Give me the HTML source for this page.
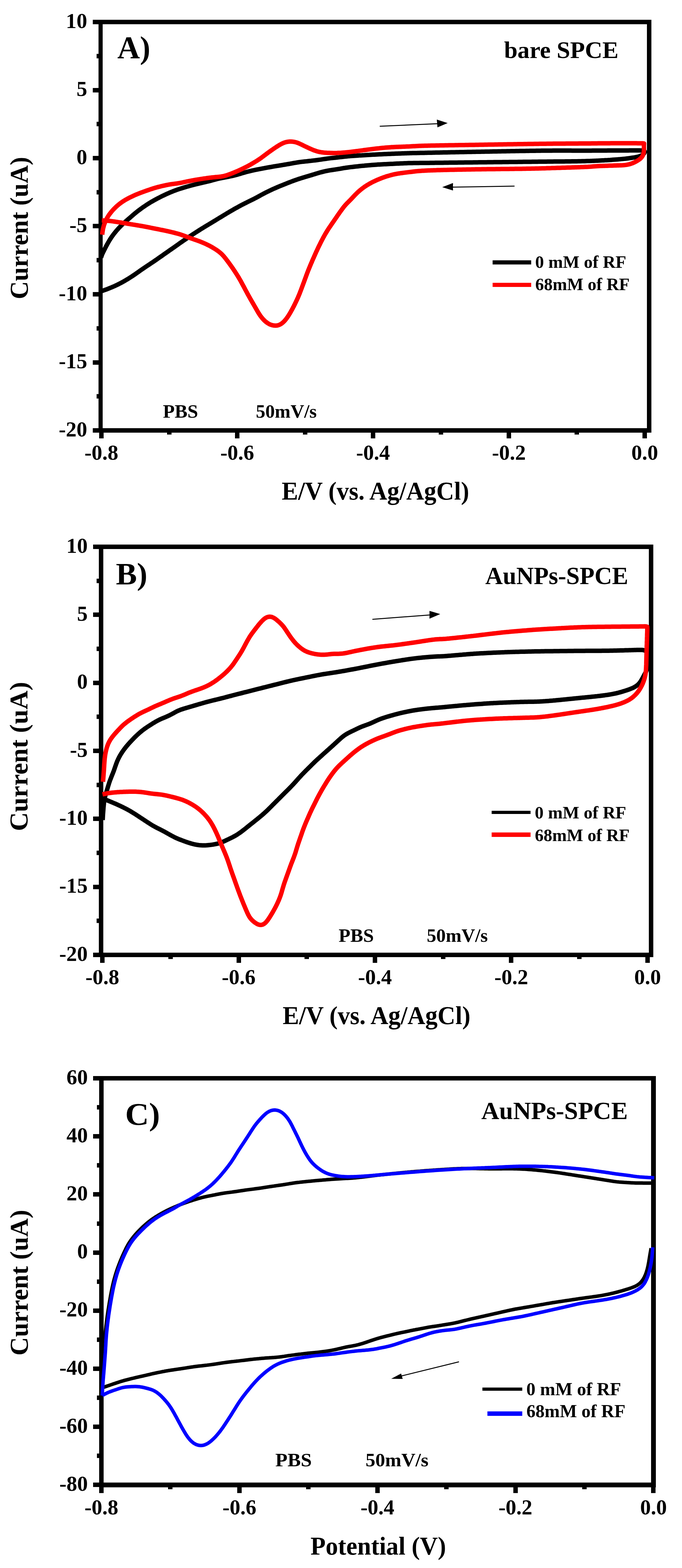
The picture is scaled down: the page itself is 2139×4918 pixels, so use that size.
<!DOCTYPE html>
<html><head><meta charset="utf-8"><title>Cyclic voltammograms</title>
<style>html,body{margin:0;padding:0;background:#fff;}svg{display:block;}text{font-family:'Liberation Serif','Times New Roman',serif;font-weight:bold;fill:#000;}</style>
</head><body>
<svg width="2139" height="4918" viewBox="0 0 2139 4918" shape-rendering="auto">
<rect width="2139" height="4918" fill="#fff"/>
<text x="273.6" y="87.5" font-size="67" text-anchor="end">10</text>
<text x="273.5" y="301.0" font-size="67" text-anchor="end">5</text>
<text x="273.6" y="514.5" font-size="67" text-anchor="end">0</text>
<text x="273.5" y="728.0" font-size="67" text-anchor="end">-5</text>
<text x="273.6" y="941.5" font-size="67" text-anchor="end">-10</text>
<text x="273.5" y="1155.0" font-size="67" text-anchor="end">-15</text>
<text x="273.6" y="1368.5" font-size="67" text-anchor="end">-20</text>
<text x="318.0" y="1442.0" font-size="67" text-anchor="middle">-0.8</text>
<text x="744.0" y="1442.0" font-size="67" text-anchor="middle">-0.6</text>
<text x="1170.0" y="1442.0" font-size="67" text-anchor="middle">-0.4</text>
<text x="1596.0" y="1442.0" font-size="67" text-anchor="middle">-0.2</text>
<text x="2022.0" y="1442.0" font-size="67" text-anchor="middle">0.0</text>
<text x="883.5" y="1567.0" font-size="80" textLength="587.9" lengthAdjust="spacingAndGlyphs">E/V (vs. Ag/AgCl)</text>
<text transform="translate(86.7,938.5) rotate(-90)" x="0" y="0" font-size="80" textLength="446.5" lengthAdjust="spacingAndGlyphs">Current (uA)</text>
<text x="367.9" y="183.0" font-size="99" textLength="103.4" lengthAdjust="spacingAndGlyphs">A)</text>
<text x="1580.9" y="182.4" font-size="75" textLength="358.9" lengthAdjust="spacingAndGlyphs">bare SPCE</text>
<rect x="1545" y="816.5" width="121" height="13" fill="#000"/>
<rect x="1545" y="887.0" width="121" height="13" fill="#f00"/>
<text x="1678.6" y="840.0" font-size="54" textLength="285.5" lengthAdjust="spacingAndGlyphs">0 mM of RF</text>
<text x="1678.8" y="910.0" font-size="54" textLength="295.8" lengthAdjust="spacingAndGlyphs">68mM of RF</text>
<line x1="1191" y1="396" x2="1372" y2="388" stroke="#000" stroke-width="3"/>
<polygon points="1370,375 1404,386 1372,399.5"/>
<line x1="1613.75" y1="583.75" x2="1418" y2="587" stroke="#000" stroke-width="3"/>
<polygon points="1387,587 1420.75,574 1420.75,597.5"/>
<text x="510.9" y="1309.6" font-size="60" textLength="110.4" lengthAdjust="spacingAndGlyphs">PBS</text>
<text x="802.6" y="1310.0" font-size="60" textLength="190.8" lengthAdjust="spacingAndGlyphs">50mV/s</text>
<rect x="309" y="62" width="1734" height="14"/>
<rect x="309" y="1343" width="1734" height="14"/>
<rect x="309" y="62" width="13" height="1295"/>
<rect x="2029" y="62" width="14" height="1295"/>
<rect x="291" y="62" width="18" height="14"/>
<rect x="291" y="276" width="18" height="14"/>
<rect x="291" y="489" width="18" height="14"/>
<rect x="291" y="702" width="18" height="14"/>
<rect x="291" y="916" width="18" height="14"/>
<rect x="291" y="1130" width="18" height="14"/>
<rect x="291" y="1343" width="18" height="14"/>
<rect x="303" y="169" width="6" height="14"/>
<rect x="303" y="382" width="6" height="14"/>
<rect x="303" y="596" width="6" height="14"/>
<rect x="303" y="809" width="6" height="14"/>
<rect x="303" y="1023" width="6" height="14"/>
<rect x="303" y="1236" width="6" height="14"/>
<rect x="311" y="1357" width="14" height="18"/>
<rect x="737" y="1357" width="14" height="18"/>
<rect x="1163" y="1357" width="14" height="18"/>
<rect x="1589" y="1357" width="14" height="18"/>
<rect x="2015" y="1357" width="14" height="18"/>
<rect x="524" y="1357" width="14" height="6"/>
<rect x="950" y="1357" width="14" height="6"/>
<rect x="1376" y="1357" width="14" height="6"/>
<rect x="1802" y="1357" width="14" height="6"/>
<path d="M317.0,808.0L318.2,803.9L319.5,800.1L320.9,796.5L322.6,792.9L324.3,789.4L326.1,785.8L327.9,782.3L329.7,778.7L331.5,775.1L333.3,771.6L335.2,768.1L337.1,764.6L339.1,761.1L341.1,757.6L343.1,754.2L345.2,750.8L347.4,747.4L349.6,744.1L351.9,740.8L354.2,737.6L356.6,734.4L359.1,731.2L361.6,728.1L364.1,725.0L366.7,722.0L369.4,719.0L372.0,716.0L374.8,713.1L377.5,710.2L380.4,707.4L383.2,704.6L386.1,701.8L389.0,699.1L392.0,696.4L395.0,693.7L398.0,691.1L401.0,688.5L404.0,685.9L407.1,683.3L410.1,680.6L413.1,678.0L416.1,675.4L419.1,672.8L422.2,670.2L425.3,667.6L428.4,665.1L431.5,662.6L434.7,660.2L437.9,657.8L441.1,655.4L444.3,653.1L447.6,650.7L450.9,648.4L454.2,646.2L457.5,644.0L460.8,641.8L464.2,639.6L467.6,637.5L471.0,635.4L474.4,633.3L477.9,631.3L481.4,629.3L484.9,627.4L488.4,625.5L491.9,623.6L495.4,621.7L499.0,619.9L502.5,618.1L506.1,616.3L509.7,614.5L513.3,612.8L516.9,611.1L520.6,609.4L524.2,607.7L527.9,606.1L531.5,604.5L535.2,602.9L538.9,601.4L542.6,599.9L546.3,598.5L550.1,597.1L553.8,595.7L557.6,594.4L561.4,593.1L565.2,591.9L569.0,590.7L572.9,589.5L576.7,588.3L580.5,587.2L584.3,586.1L588.2,584.9L592.0,583.9L595.9,582.8L599.8,581.8L603.6,580.8L607.5,579.8L611.4,578.8L615.3,577.8L619.2,576.9L623.1,576.0L626.9,575.0L630.8,574.1L634.7,573.2L638.6,572.3L642.5,571.4L646.4,570.5L650.3,569.5L654.2,568.6L658.1,567.6L662.0,566.6L665.8,565.6L669.7,564.5L673.5,563.5L677.4,562.4L681.2,561.5L685.1,560.5L689.0,559.7L693.0,558.9L696.9,558.1L700.8,557.4L704.7,556.6L708.7,555.8L712.6,555.1L716.5,554.3L720.4,553.5L724.4,552.7L728.3,551.9L732.2,551.0L736.0,550.0L739.9,549.0L743.8,547.9L747.6,546.8L751.4,545.7L755.3,544.5L759.1,543.4L762.9,542.3L766.8,541.2L770.6,540.1L774.5,539.0L778.4,538.0L782.2,537.1L786.1,536.1L790.0,535.2L793.9,534.4L797.9,533.5L801.8,532.7L805.7,531.9L809.6,531.1L813.5,530.4L817.5,529.6L821.4,528.9L825.3,528.1L829.3,527.4L833.2,526.6L837.1,525.9L841.1,525.2L845.0,524.5L848.9,523.8L852.9,523.1L856.8,522.4L860.8,521.7L864.7,521.1L868.7,520.4L872.6,519.8L876.6,519.1L880.5,518.5L884.4,517.8L888.4,517.2L892.3,516.5L896.3,515.8L900.2,515.2L904.2,514.5L908.1,513.8L912.0,513.1L916.0,512.4L919.9,511.6L923.9,510.9L927.8,510.3L931.7,509.6L935.7,509.0L939.7,508.4L943.6,507.9L947.6,507.4L951.6,507.0L955.5,506.5L959.5,506.1L963.5,505.7L967.5,505.2L971.4,504.8L975.4,504.4L979.4,503.9L983.4,503.4L987.3,503.0L991.3,502.5L995.3,502.0L999.2,501.4L1003.2,500.9L1007.2,500.3L1011.1,499.7L1015.1,499.1L1019.0,498.5L1023.0,498.0L1027.0,497.4L1030.9,496.9L1034.9,496.4L1038.9,495.9L1042.8,495.5L1046.8,495.1L1050.8,494.7L1054.8,494.3L1058.8,493.8L1062.7,493.4L1066.7,492.9L1070.7,492.5L1074.7,492.0L1078.6,491.6L1082.6,491.1L1086.6,490.7L1090.6,490.3L1094.5,489.9L1098.5,489.6L1102.5,489.3L1106.5,489.0L1110.5,488.7L1114.5,488.4L1118.5,488.2L1122.5,487.9L1126.5,487.6L1130.5,487.4L1134.5,487.2L1138.4,486.9L1142.4,486.7L1146.4,486.4L1150.4,486.2L1154.4,486.0L1158.4,485.8L1162.4,485.5L1166.4,485.3L1170.4,485.1L1174.4,484.9L1178.4,484.7L1182.4,484.5L1186.4,484.3L1190.4,484.1L1194.4,483.9L1198.4,483.7L1202.4,483.5L1206.4,483.3L1210.4,483.2L1214.4,483.0L1218.4,482.8L1222.4,482.7L1226.4,482.5L1230.4,482.3L1234.3,482.2L1238.3,482.0L1242.3,481.8L1246.3,481.7L1250.3,481.5L1254.3,481.4L1258.3,481.2L1262.3,481.1L1266.3,481.0L1270.3,480.8L1274.3,480.7L1278.3,480.6L1282.3,480.5L1286.3,480.3L1290.3,480.2L1294.3,480.1L1298.3,480.0L1302.3,479.9L1306.3,479.9L1310.3,479.8L1314.3,479.7L1318.3,479.6L1322.3,479.5L1326.3,479.5L1330.3,479.4L1334.3,479.3L1338.3,479.2L1342.3,479.1L1346.3,479.0L1350.3,479.0L1354.3,478.9L1358.3,478.8L1362.3,478.7L1366.3,478.6L1370.3,478.5L1374.3,478.5L1378.3,478.4L1382.3,478.3L1386.3,478.2L1390.3,478.1L1394.3,478.0L1398.3,478.0L1402.3,477.9L1406.3,477.8L1410.3,477.7L1414.3,477.6L1418.3,477.5L1422.3,477.5L1426.3,477.4L1430.3,477.3L1434.3,477.2L1438.3,477.2L1442.3,477.1L1446.3,477.0L1450.3,476.9L1454.3,476.9L1458.3,476.8L1462.3,476.7L1466.3,476.6L1470.3,476.6L1474.3,476.5L1478.3,476.4L1482.3,476.3L1486.3,476.3L1490.3,476.2L1494.3,476.1L1498.3,476.0L1502.3,476.0L1506.3,475.9L1510.3,475.8L1514.3,475.7L1518.3,475.7L1522.3,475.6L1526.3,475.5L1530.3,475.4L1534.3,475.4L1538.3,475.3L1542.3,475.2L1546.3,475.1L1550.3,475.1L1554.3,475.0L1558.3,474.9L1562.3,474.8L1566.3,474.8L1570.3,474.7L1574.3,474.6L1578.3,474.5L1582.3,474.5L1586.3,474.4L1590.3,474.3L1594.3,474.3L1598.3,474.2L1602.3,474.1L1606.3,474.0L1610.3,474.0L1614.3,473.9L1618.3,473.8L1622.3,473.8L1626.3,473.7L1630.3,473.6L1634.3,473.6L1638.3,473.5L1642.3,473.4L1646.3,473.4L1650.3,473.3L1654.3,473.2L1658.3,473.2L1662.3,473.1L1666.3,473.1L1670.3,473.0L1674.3,472.9L1678.3,472.9L1682.3,472.8L1686.3,472.8L1690.3,472.7L1694.3,472.7L1698.3,472.6L1702.3,472.6L1706.3,472.5L1710.3,472.5L1714.3,472.5L1718.3,472.4L1722.3,472.4L1726.3,472.4L1730.3,472.4L1734.3,472.3L1738.3,472.3L1742.3,472.3L1746.3,472.3L1750.3,472.3L1754.3,472.3L1758.3,472.3L1762.3,472.3L1766.3,472.3L1770.3,472.3L1774.3,472.3L1778.3,472.3L1782.4,472.3L1786.4,472.3L1790.4,472.3L1794.4,472.4L1798.4,472.4L1802.4,472.4L1806.4,472.4L1810.4,472.4L1814.4,472.4L1818.4,472.4L1822.4,472.4L1826.4,472.4L1830.4,472.4L1834.4,472.4L1838.4,472.4L1842.4,472.4L1846.4,472.4L1850.4,472.4L1854.4,472.4L1858.4,472.3L1862.4,472.3L1866.4,472.3L1870.4,472.3L1874.4,472.3L1878.4,472.3L1882.4,472.2L1886.4,472.2L1890.4,472.2L1894.4,472.2L1898.4,472.2L1902.4,472.2L1906.4,472.1L1910.4,472.1L1914.4,472.1L1918.4,472.1L1922.4,472.1L1926.4,472.0L1930.4,472.0L1934.4,472.0L1938.4,472.0L1942.4,472.0L1946.4,472.0L1950.4,471.9L1954.4,471.9L1958.4,471.9L1962.4,471.9L1966.4,471.9L1970.4,471.9L1974.4,471.8L1978.4,471.8L1982.4,471.8L1986.4,471.8L1990.4,471.8L1994.4,471.8L1998.4,471.8L2002.4,471.8L2006.3,471.8L2010.1,471.9L2013.7,472.0L2016.8,472.3L2019.4,472.8L2021.2,473.7L2022.1,475.1L2022.2,476.9L2021.4,479.1L2019.9,481.4L2017.7,483.8L2014.9,485.9L2011.8,487.7L2008.3,489.2L2004.6,490.5L2000.8,491.5L1996.9,492.3L1993.0,493.1L1989.1,493.8L1985.1,494.4L1981.2,495.0L1977.2,495.6L1973.3,496.2L1969.3,496.7L1965.3,497.2L1961.4,497.7L1957.4,498.1L1953.4,498.5L1949.4,498.9L1945.4,499.3L1941.5,499.6L1937.5,499.9L1933.5,500.2L1929.5,500.5L1925.5,500.8L1921.5,501.1L1917.5,501.4L1913.5,501.7L1909.5,501.9L1905.5,502.2L1901.6,502.4L1897.6,502.6L1893.6,502.9L1889.6,503.1L1885.6,503.3L1881.6,503.5L1877.6,503.7L1873.6,503.9L1869.6,504.1L1865.6,504.2L1861.6,504.4L1857.6,504.6L1853.6,504.7L1849.6,504.9L1845.6,505.0L1841.6,505.1L1837.6,505.2L1833.6,505.4L1829.6,505.5L1825.6,505.6L1821.6,505.7L1817.6,505.8L1813.6,505.8L1809.6,505.9L1805.6,506.0L1801.6,506.0L1797.6,506.1L1793.6,506.1L1789.6,506.2L1785.6,506.2L1781.6,506.3L1777.6,506.3L1773.6,506.3L1769.6,506.4L1765.6,506.4L1761.6,506.4L1757.6,506.5L1753.6,506.5L1749.6,506.5L1745.6,506.6L1741.6,506.6L1737.6,506.6L1733.6,506.7L1729.6,506.7L1725.6,506.7L1721.6,506.8L1717.6,506.8L1713.6,506.9L1709.6,506.9L1705.6,506.9L1701.6,507.0L1697.6,507.0L1693.6,507.1L1689.6,507.1L1685.6,507.2L1681.6,507.2L1677.6,507.3L1673.6,507.3L1669.6,507.3L1665.6,507.4L1661.6,507.4L1657.6,507.5L1653.6,507.5L1649.6,507.6L1645.6,507.6L1641.6,507.6L1637.6,507.7L1633.6,507.7L1629.6,507.8L1625.6,507.8L1621.6,507.9L1617.6,507.9L1613.6,507.9L1609.6,508.0L1605.6,508.0L1601.6,508.1L1597.6,508.1L1593.6,508.2L1589.6,508.2L1585.6,508.2L1581.6,508.3L1577.6,508.3L1573.6,508.4L1569.6,508.4L1565.6,508.5L1561.6,508.5L1557.6,508.5L1553.6,508.6L1549.6,508.6L1545.6,508.7L1541.6,508.7L1537.6,508.8L1533.6,508.8L1529.6,508.8L1525.6,508.9L1521.6,508.9L1517.6,509.0L1513.6,509.0L1509.6,509.1L1505.6,509.1L1501.6,509.1L1497.6,509.2L1493.6,509.2L1489.6,509.3L1485.6,509.3L1481.6,509.4L1477.6,509.4L1473.6,509.4L1469.6,509.5L1465.6,509.5L1461.6,509.6L1457.6,509.6L1453.6,509.7L1449.6,509.7L1445.6,509.7L1441.6,509.8L1437.6,509.8L1433.6,509.9L1429.6,509.9L1425.6,510.0L1421.6,510.0L1417.6,510.1L1413.6,510.1L1409.6,510.1L1405.6,510.2L1401.6,510.2L1397.6,510.3L1393.6,510.3L1389.5,510.4L1385.5,510.4L1381.5,510.5L1377.5,510.5L1373.5,510.6L1369.5,510.6L1365.5,510.6L1361.5,510.7L1357.5,510.7L1353.5,510.8L1349.5,510.8L1345.5,510.9L1341.5,510.9L1337.5,511.0L1333.5,511.0L1329.5,511.0L1325.5,511.1L1321.5,511.1L1317.5,511.1L1313.5,511.2L1309.5,511.2L1305.5,511.2L1301.5,511.3L1297.5,511.3L1293.5,511.4L1289.5,511.4L1285.5,511.5L1281.5,511.6L1277.5,511.7L1273.5,511.9L1269.5,512.0L1265.5,512.2L1261.5,512.4L1257.6,512.5L1253.6,512.7L1249.6,512.9L1245.6,513.1L1241.6,513.3L1237.6,513.5L1233.6,513.8L1229.6,514.0L1225.6,514.1L1221.6,514.3L1217.6,514.5L1213.6,514.7L1209.6,514.9L1205.6,515.1L1201.6,515.3L1197.6,515.5L1193.6,515.7L1189.6,515.9L1185.6,516.1L1181.6,516.4L1177.6,516.7L1173.7,517.0L1169.7,517.3L1165.7,517.6L1161.7,517.9L1157.7,518.2L1153.7,518.6L1149.7,518.9L1145.7,519.3L1141.8,519.7L1137.8,520.0L1133.8,520.4L1129.8,520.8L1125.8,521.2L1121.9,521.7L1117.9,522.1L1113.9,522.5L1109.9,523.0L1106.0,523.5L1102.0,523.9L1098.0,524.4L1094.1,524.9L1090.1,525.5L1086.1,526.0L1082.2,526.6L1078.2,527.2L1074.3,527.9L1070.3,528.6L1066.4,529.3L1062.4,529.9L1058.5,530.6L1054.5,531.2L1050.6,531.8L1046.6,532.4L1042.7,533.0L1038.7,533.6L1034.8,534.2L1030.8,534.9L1026.9,535.6L1023.0,536.4L1019.1,537.2L1015.2,538.1L1011.3,539.1L1007.4,540.1L1003.6,541.1L999.7,542.2L995.9,543.4L992.1,544.5L988.2,545.7L984.4,546.9L980.6,548.0L976.8,549.2L972.9,550.4L969.1,551.5L965.3,552.6L961.4,553.8L957.6,554.9L953.8,556.1L949.9,557.2L946.1,558.4L942.3,559.6L938.5,560.8L934.7,562.0L930.9,563.3L927.1,564.6L923.3,566.0L919.6,567.4L915.8,568.8L912.1,570.2L908.4,571.6L904.6,573.1L900.9,574.6L897.2,576.1L893.5,577.5L889.8,579.0L886.1,580.5L882.3,582.0L878.6,583.5L874.9,585.0L871.2,586.5L867.6,588.1L863.9,589.7L860.2,591.3L856.6,592.9L852.9,594.6L849.3,596.3L845.7,598.0L842.1,599.8L838.5,601.5L834.9,603.3L831.4,605.1L827.8,607.0L824.3,608.8L820.8,610.7L817.2,612.6L813.7,614.6L810.2,616.5L806.7,618.4L803.2,620.2L799.6,622.1L796.1,623.9L792.5,625.7L788.9,627.5L785.3,629.3L781.7,631.1L778.2,632.8L774.6,634.6L771.0,636.4L767.4,638.1L763.8,640.0L760.3,641.8L756.7,643.6L753.2,645.5L749.7,647.4L746.2,649.3L742.7,651.3L739.2,653.2L735.7,655.2L732.2,657.2L728.8,659.2L725.3,661.2L721.8,663.2L718.4,665.2L714.9,667.3L711.5,669.3L708.1,671.4L704.7,673.5L701.2,675.5L697.8,677.6L694.4,679.7L691.0,681.8L687.6,683.8L684.2,685.9L680.7,688.0L677.3,690.1L673.9,692.2L670.5,694.3L667.1,696.3L663.6,698.4L660.2,700.5L656.8,702.5L653.4,704.6L649.9,706.6L646.5,708.7L643.1,710.8L639.7,712.9L636.3,715.0L632.8,717.1L629.5,719.2L626.1,721.3L622.7,723.5L619.3,725.6L616.0,727.8L612.6,729.9L609.2,732.1L605.9,734.3L602.5,736.5L599.2,738.7L595.9,740.9L592.6,743.2L589.2,745.4L585.9,747.6L582.6,749.9L579.3,752.2L576.0,754.4L572.8,756.7L569.5,759.0L566.2,761.3L562.9,763.6L559.7,765.9L556.4,768.3L553.1,770.6L549.9,772.9L546.6,775.2L543.3,777.5L540.0,779.7L536.8,782.0L533.5,784.3L530.2,786.6L526.9,788.9L523.6,791.2L520.4,793.5L517.1,795.8L513.8,798.1L510.5,800.4L507.3,802.7L504.0,805.0L500.7,807.3L497.4,809.6L494.2,811.9L490.9,814.2L487.6,816.4L484.3,818.7L481.0,821.0L477.7,823.2L474.3,825.4L471.0,827.6L467.7,829.9L464.3,832.1L461.0,834.3L457.7,836.5L454.4,838.7L451.1,841.0L447.8,843.3L444.5,845.5L441.2,847.8L437.9,850.1L434.7,852.5L431.4,854.8L428.1,857.1L424.9,859.4L421.6,861.6L418.2,863.9L414.9,866.1L411.6,868.3L408.2,870.4L404.8,872.6L401.4,874.7L398.0,876.8L394.6,878.8L391.1,880.8L387.6,882.8L384.2,884.8L380.6,886.7L377.1,888.5L373.5,890.4L370.0,892.1L366.4,893.9L362.7,895.6L359.1,897.3L355.5,898.9L351.8,900.5L348.1,902.1L344.4,903.6L340.7,905.1L337.1,906.5L333.4,907.9L329.7,909.2L326.0,910.5L322.1,911.8L320.0,912.5" fill="none" stroke="#000" stroke-width="14" stroke-linejoin="round" stroke-linecap="butt"/>
<path d="M319.3,691.2L323.6,691.4L327.6,691.7L331.5,691.9L335.4,692.2L339.3,692.6L343.3,693.0L347.2,693.4L351.2,693.9L355.1,694.4L359.1,695.0L363.1,695.6L367.0,696.2L371.0,696.8L374.9,697.4L378.9,698.0L382.8,698.7L386.8,699.3L390.7,700.0L394.7,700.6L398.6,701.3L402.5,702.0L406.5,702.6L410.4,703.3L414.4,703.9L418.3,704.6L422.3,705.2L426.2,705.9L430.2,706.5L434.1,707.2L438.1,707.8L442.0,708.5L445.9,709.2L449.9,709.9L453.8,710.6L457.7,711.4L461.7,712.2L465.6,712.9L469.5,713.7L473.4,714.5L477.4,715.3L481.3,716.1L485.2,716.9L489.1,717.7L493.0,718.4L497.0,719.2L500.9,720.0L504.8,720.8L508.7,721.5L512.7,722.3L516.6,723.2L520.5,724.0L524.4,724.9L528.3,725.7L532.2,726.6L536.1,727.5L540.0,728.5L543.9,729.4L547.8,730.4L551.6,731.4L555.5,732.4L559.3,733.5L563.2,734.6L567.0,735.8L570.8,737.1L574.5,738.4L578.3,739.8L582.0,741.2L585.8,742.6L589.5,744.0L593.3,745.4L597.0,746.8L600.8,748.1L604.6,749.5L608.4,750.8L612.1,752.1L615.9,753.4L619.7,754.8L623.4,756.1L627.2,757.6L630.9,759.0L634.6,760.5L638.3,762.1L641.9,763.7L645.6,765.3L649.2,767.1L652.8,768.8L656.3,770.6L659.9,772.5L663.4,774.4L666.8,776.4L670.3,778.5L673.7,780.6L677.0,782.7L680.3,784.9L683.6,787.2L686.8,789.6L689.9,792.1L692.9,794.7L695.8,797.4L698.6,800.3L701.3,803.2L703.8,806.3L706.4,809.4L708.8,812.5L711.2,815.7L713.7,818.9L716.0,822.1L718.4,825.3L720.8,828.6L723.1,831.8L725.4,835.1L727.7,838.3L730.0,841.6L732.2,844.9L734.4,848.3L736.7,851.6L738.8,854.9L741.0,858.3L743.2,861.7L745.3,865.1L747.4,868.5L749.4,871.9L751.4,875.4L753.4,878.8L755.4,882.3L757.3,885.8L759.2,889.3L761.1,892.9L763.0,896.4L764.9,899.9L766.8,903.5L768.6,907.0L770.5,910.5L772.4,914.0L774.3,917.6L776.2,921.1L778.1,924.6L780.1,928.1L782.0,931.6L784.0,935.1L785.9,938.6L787.9,942.0L789.9,945.5L791.9,949.0L793.9,952.4L795.9,955.9L797.9,959.4L799.9,962.8L801.9,966.3L803.9,969.8L805.9,973.2L807.9,976.7L809.9,980.1L812.0,983.5L814.2,986.9L816.4,990.2L818.8,993.4L821.2,996.5L823.8,999.6L826.5,1002.5L829.3,1005.3L832.2,1008.0L835.3,1010.5L838.5,1012.8L841.8,1014.9L845.3,1016.8L848.9,1018.4L852.6,1019.6L856.4,1020.5L860.2,1021.1L864.1,1021.2L867.9,1021.0L871.6,1020.3L875.3,1019.1L878.8,1017.6L882.1,1015.6L885.2,1013.3L888.2,1010.7L891.0,1008.0L893.7,1005.0L896.2,1002.0L898.7,998.8L901.0,995.6L903.3,992.3L905.4,989.0L907.5,985.6L909.6,982.1L911.6,978.7L913.5,975.2L915.5,971.7L917.4,968.2L919.2,964.6L921.1,961.1L922.9,957.5L924.7,953.9L926.4,950.3L928.2,946.7L929.9,943.1L931.6,939.5L933.2,935.9L934.9,932.2L936.4,928.5L938.0,924.8L939.5,921.1L940.9,917.4L942.4,913.7L943.8,909.9L945.2,906.2L946.6,902.4L948.0,898.7L949.4,894.9L950.8,891.2L952.2,887.4L953.6,883.7L954.9,879.9L956.3,876.2L957.7,872.4L959.1,868.7L960.4,864.9L961.8,861.2L963.2,857.4L964.7,853.7L966.1,849.9L967.6,846.2L969.1,842.5L970.6,838.8L972.1,835.1L973.7,831.4L975.2,827.7L976.8,824.1L978.4,820.4L979.9,816.7L981.5,813.0L983.2,809.4L984.8,805.7L986.4,802.1L988.0,798.4L989.7,794.8L991.3,791.1L993.0,787.5L994.7,783.9L996.4,780.2L998.1,776.6L999.8,773.0L1001.6,769.4L1003.4,765.8L1005.1,762.3L1006.9,758.7L1008.8,755.1L1010.6,751.6L1012.5,748.0L1014.3,744.5L1016.3,741.0L1018.2,737.5L1020.2,734.0L1022.2,730.6L1024.3,727.2L1026.4,723.8L1028.5,720.4L1030.7,717.0L1032.9,713.7L1035.2,710.4L1037.4,707.1L1039.7,703.8L1041.9,700.5L1044.2,697.2L1046.5,693.9L1048.8,690.6L1051.0,687.3L1053.3,684.0L1055.6,680.7L1057.8,677.4L1060.1,674.1L1062.4,670.9L1064.7,667.6L1067.0,664.3L1069.3,661.1L1071.7,657.8L1074.0,654.6L1076.5,651.4L1078.9,648.3L1081.5,645.2L1084.1,642.2L1086.8,639.3L1089.6,636.4L1092.4,633.6L1095.2,630.8L1098.1,627.9L1100.8,625.1L1103.6,622.2L1106.3,619.3L1109.0,616.3L1111.8,613.4L1114.5,610.5L1117.4,607.7L1120.2,604.9L1123.1,602.2L1126.1,599.5L1129.1,596.9L1132.2,594.4L1135.3,591.9L1138.5,589.5L1141.8,587.1L1145.0,584.8L1148.4,582.6L1151.7,580.5L1155.2,578.4L1158.6,576.4L1162.1,574.5L1165.6,572.6L1169.2,570.8L1172.8,569.0L1176.4,567.3L1180.0,565.6L1183.7,564.0L1187.4,562.5L1191.1,560.9L1194.8,559.4L1198.5,558.0L1202.3,556.6L1206.0,555.3L1209.8,554.0L1213.6,552.8L1217.5,551.7L1221.3,550.6L1225.2,549.5L1229.0,548.5L1232.9,547.5L1236.8,546.6L1240.7,545.8L1244.6,545.1L1248.6,544.4L1252.5,543.8L1256.5,543.2L1260.4,542.7L1264.4,542.1L1268.4,541.6L1272.3,541.1L1276.3,540.6L1280.3,540.1L1284.3,539.6L1288.2,539.2L1292.2,538.7L1296.2,538.2L1300.1,537.7L1304.1,537.3L1308.1,536.9L1312.1,536.5L1316.1,536.2L1320.0,535.9L1324.0,535.6L1328.0,535.4L1332.0,535.2L1336.0,535.0L1340.0,534.8L1344.0,534.6L1348.0,534.4L1352.0,534.3L1356.0,534.2L1360.0,534.0L1364.0,533.9L1368.0,533.8L1372.0,533.6L1376.0,533.5L1380.0,533.4L1384.0,533.3L1388.0,533.2L1392.0,533.1L1396.0,533.0L1400.0,532.9L1404.0,532.8L1408.0,532.7L1412.0,532.6L1416.0,532.5L1420.0,532.5L1424.0,532.4L1428.0,532.3L1432.0,532.2L1436.0,532.1L1440.0,532.0L1444.0,532.0L1448.0,531.9L1452.0,531.8L1456.0,531.7L1460.0,531.7L1464.0,531.6L1468.0,531.5L1472.0,531.4L1476.0,531.4L1480.0,531.3L1484.0,531.2L1488.0,531.2L1492.0,531.1L1496.0,531.1L1500.0,531.0L1504.0,530.9L1508.0,530.9L1512.0,530.8L1516.0,530.8L1520.0,530.7L1524.0,530.7L1528.0,530.6L1532.0,530.6L1536.0,530.6L1540.0,530.5L1544.0,530.5L1548.0,530.4L1552.0,530.4L1556.0,530.3L1560.0,530.3L1564.0,530.2L1568.0,530.2L1572.0,530.1L1576.0,530.1L1580.0,530.1L1584.0,530.0L1588.0,530.0L1592.0,529.9L1596.0,529.9L1600.0,529.8L1604.0,529.8L1608.0,529.7L1612.0,529.7L1616.0,529.6L1620.0,529.6L1624.0,529.5L1628.0,529.5L1632.0,529.4L1636.0,529.4L1640.0,529.3L1644.0,529.3L1648.0,529.2L1652.0,529.1L1656.0,529.1L1660.0,529.0L1664.0,528.9L1668.0,528.8L1672.0,528.8L1676.0,528.7L1680.0,528.6L1684.0,528.5L1688.0,528.4L1692.0,528.3L1696.0,528.2L1700.0,528.1L1704.0,528.0L1708.0,527.9L1712.0,527.8L1716.0,527.6L1720.0,527.5L1724.0,527.4L1728.0,527.3L1732.0,527.1L1736.0,527.0L1740.0,526.9L1744.0,526.7L1748.0,526.6L1752.0,526.5L1756.0,526.4L1760.0,526.2L1764.0,526.1L1768.0,526.0L1771.9,525.9L1775.9,525.7L1779.9,525.6L1783.9,525.5L1787.9,525.4L1791.9,525.2L1795.9,525.1L1799.9,525.0L1803.9,524.8L1807.9,524.7L1811.9,524.6L1815.9,524.4L1819.9,524.3L1823.9,524.1L1827.9,524.0L1831.9,523.8L1835.9,523.6L1839.9,523.4L1843.9,523.2L1847.9,522.9L1851.9,522.7L1855.9,522.4L1859.9,522.1L1863.9,521.8L1867.8,521.5L1871.8,521.2L1875.8,521.0L1879.8,520.8L1883.8,520.6L1887.8,520.5L1891.8,520.3L1895.8,520.2L1899.8,520.0L1903.8,519.9L1907.8,519.7L1911.8,519.6L1915.8,519.5L1919.8,519.4L1923.8,519.2L1927.8,519.1L1931.8,519.0L1935.8,518.8L1939.8,518.7L1943.8,518.6L1947.8,518.4L1951.8,518.3L1955.8,518.0L1959.7,517.6L1963.7,517.1L1967.6,516.5L1971.5,515.7L1975.3,514.7L1979.1,513.5L1982.9,512.2L1986.6,510.7L1990.2,509.0L1993.7,507.2L1997.2,505.2L2000.6,503.2L2003.9,501.0L2007.0,498.6L2009.9,496.1L2012.5,493.3L2014.7,490.2L2016.5,486.9L2017.8,483.4L2018.7,479.7L2019.3,475.9L2019.6,472.0L2019.7,468.1L2019.6,464.2L2019.6,460.3L2019.6,456.3L2019.9,452.2L2020.0,450.0L2020.0,450.0L2015.8,449.5L2011.8,449.5L2007.9,449.4L2004.0,449.4L2000.1,449.4L1996.1,449.3L1992.1,449.3L1988.1,449.3L1984.1,449.3L1980.1,449.3L1976.1,449.3L1972.1,449.3L1968.1,449.3L1964.1,449.3L1960.1,449.3L1956.1,449.3L1952.1,449.3L1948.1,449.3L1944.1,449.3L1940.1,449.3L1936.1,449.3L1932.1,449.3L1928.1,449.3L1924.1,449.3L1920.1,449.3L1916.1,449.3L1912.1,449.4L1908.1,449.4L1904.1,449.4L1900.1,449.4L1896.1,449.4L1892.1,449.5L1888.1,449.5L1884.1,449.5L1880.1,449.6L1876.1,449.6L1872.1,449.7L1868.1,449.7L1864.1,449.7L1860.1,449.8L1856.1,449.8L1852.1,449.9L1848.1,449.9L1844.1,449.9L1840.1,450.0L1836.1,450.0L1832.1,450.0L1828.1,450.1L1824.1,450.1L1820.1,450.1L1816.1,450.1L1812.1,450.2L1808.1,450.2L1804.1,450.2L1800.1,450.2L1796.1,450.2L1792.1,450.2L1788.1,450.3L1784.1,450.3L1780.1,450.3L1776.1,450.3L1772.1,450.4L1768.1,450.4L1764.1,450.4L1760.1,450.4L1756.1,450.5L1752.1,450.5L1748.1,450.5L1744.1,450.5L1740.1,450.6L1736.1,450.6L1732.1,450.7L1728.1,450.7L1724.1,450.7L1720.1,450.8L1716.1,450.8L1712.1,450.9L1708.1,450.9L1704.1,451.0L1700.1,451.0L1696.1,451.1L1692.1,451.1L1688.1,451.2L1684.1,451.2L1680.1,451.3L1676.1,451.3L1672.1,451.4L1668.1,451.4L1664.1,451.5L1660.1,451.6L1656.1,451.6L1652.1,451.7L1648.1,451.7L1644.1,451.8L1640.1,451.9L1636.1,451.9L1632.1,452.0L1628.1,452.1L1624.1,452.1L1620.1,452.2L1616.1,452.2L1612.1,452.3L1608.1,452.4L1604.1,452.4L1600.1,452.5L1596.1,452.6L1592.1,452.6L1588.1,452.7L1584.1,452.8L1580.1,452.8L1576.1,452.9L1572.1,453.0L1568.1,453.0L1564.1,453.1L1560.1,453.2L1556.1,453.2L1552.1,453.3L1548.1,453.4L1544.1,453.4L1540.1,453.5L1536.0,453.6L1532.0,453.6L1528.0,453.7L1524.0,453.8L1520.0,453.8L1516.0,453.9L1512.0,454.0L1508.0,454.0L1504.0,454.1L1500.0,454.2L1496.0,454.2L1492.0,454.3L1488.0,454.4L1484.0,454.4L1480.0,454.5L1476.0,454.6L1472.0,454.6L1468.0,454.7L1464.0,454.8L1460.0,454.8L1456.0,454.9L1452.0,455.0L1448.0,455.0L1444.0,455.1L1440.0,455.1L1436.0,455.2L1432.0,455.3L1428.0,455.3L1424.0,455.4L1420.0,455.5L1416.0,455.5L1412.0,455.6L1408.0,455.6L1404.0,455.7L1400.0,455.8L1396.0,455.8L1392.0,455.9L1388.0,456.0L1384.0,456.0L1380.0,456.1L1376.0,456.2L1372.0,456.2L1368.0,456.3L1364.0,456.4L1360.0,456.4L1356.0,456.5L1352.0,456.6L1348.0,456.7L1344.0,456.8L1340.0,456.9L1336.0,457.0L1332.0,457.1L1328.0,457.2L1324.0,457.3L1320.0,457.5L1316.0,457.6L1312.0,457.8L1308.0,458.0L1304.1,458.2L1300.1,458.4L1296.1,458.6L1292.1,458.8L1288.1,459.1L1284.1,459.3L1280.1,459.4L1276.1,459.6L1272.1,459.8L1268.1,459.9L1264.1,460.1L1260.1,460.2L1256.1,460.4L1252.1,460.5L1248.1,460.7L1244.1,460.8L1240.1,461.0L1236.1,461.2L1232.1,461.4L1228.1,461.6L1224.1,461.9L1220.1,462.2L1216.1,462.5L1212.2,462.8L1208.2,463.1L1204.2,463.5L1200.2,463.8L1196.2,464.2L1192.2,464.6L1188.3,465.1L1184.3,465.5L1180.3,465.9L1176.3,466.4L1172.4,466.9L1168.4,467.4L1164.4,467.9L1160.5,468.4L1156.5,468.9L1152.5,469.4L1148.6,470.0L1144.6,470.5L1140.6,471.0L1136.7,471.6L1132.7,472.1L1128.7,472.7L1124.8,473.2L1120.8,473.8L1116.8,474.3L1112.9,474.8L1108.9,475.3L1104.9,475.8L1101.0,476.3L1097.0,476.7L1093.0,477.1L1089.0,477.5L1085.1,477.9L1081.1,478.3L1077.1,478.6L1073.1,478.9L1069.1,479.2L1065.1,479.4L1061.1,479.6L1057.1,479.8L1053.1,479.9L1049.1,479.9L1045.1,479.9L1041.1,479.8L1037.1,479.8L1033.1,479.6L1029.1,479.5L1025.1,479.3L1021.2,479.0L1017.2,478.7L1013.2,478.3L1009.2,477.8L1005.3,477.2L1001.4,476.5L997.5,475.5L993.7,474.5L989.9,473.2L986.2,471.9L982.5,470.4L978.8,468.9L975.1,467.3L971.4,465.7L967.8,464.1L964.1,462.4L960.5,460.7L956.9,459.0L953.3,457.2L949.7,455.4L946.1,453.7L942.5,452.0L938.9,450.3L935.2,448.8L931.5,447.4L927.8,446.2L923.9,445.3L920.1,444.6L916.1,444.2L912.2,444.0L908.2,444.1L904.3,444.4L900.4,445.0L896.6,445.9L892.8,447.0L889.1,448.4L885.5,450.0L881.9,451.8L878.5,453.7L875.0,455.7L871.6,457.8L868.2,460.0L864.9,462.1L861.6,464.3L858.2,466.6L855.0,468.9L851.7,471.1L848.4,473.5L845.2,475.8L841.9,478.2L838.7,480.5L835.5,482.9L832.3,485.3L829.1,487.7L825.9,490.1L822.7,492.5L819.5,494.9L816.2,497.2L813.0,499.5L809.6,501.7L806.3,503.9L802.9,506.0L799.4,508.0L796.0,510.1L792.6,512.2L789.1,514.2L785.7,516.2L782.2,518.2L778.7,520.1L775.2,522.0L771.6,523.8L768.0,525.6L764.5,527.4L760.8,529.1L757.2,530.8L753.6,532.5L750.0,534.1L746.3,535.8L742.6,537.4L739.0,539.0L735.3,540.5L731.6,542.0L727.9,543.5L724.1,545.0L720.4,546.4L716.6,547.7L712.9,549.0L709.1,550.3L705.3,551.3L701.4,552.3L697.5,553.0L693.6,553.7L689.6,554.2L685.6,554.6L681.6,555.0L677.7,555.3L673.7,555.7L669.7,556.1L665.7,556.5L661.7,557.0L657.8,557.4L653.8,558.0L649.8,558.5L645.9,559.1L641.9,559.6L638.0,560.2L634.0,560.8L630.1,561.4L626.1,562.1L622.2,562.7L618.2,563.3L614.3,564.0L610.3,564.7L606.4,565.3L602.4,566.1L598.5,566.8L594.6,567.6L590.7,568.4L586.7,569.2L582.8,570.0L578.9,570.9L575.0,571.7L571.1,572.6L567.2,573.3L563.3,574.1L559.3,574.7L555.4,575.3L551.4,575.9L547.5,576.4L543.5,576.9L539.5,577.4L535.6,578.0L531.6,578.7L527.7,579.4L523.8,580.1L519.9,580.9L515.9,581.8L512.0,582.6L508.1,583.5L504.2,584.4L500.4,585.4L496.5,586.4L492.6,587.4L488.8,588.5L484.9,589.6L481.1,590.8L477.3,592.0L473.5,593.2L469.7,594.5L465.9,595.8L462.1,597.1L458.4,598.4L454.6,599.8L450.8,601.1L447.1,602.5L443.3,603.9L439.6,605.3L435.9,606.8L432.1,608.3L428.4,609.8L424.8,611.3L421.1,612.9L417.5,614.6L413.8,616.3L410.2,618.0L406.6,619.8L403.1,621.6L399.6,623.5L396.1,625.4L392.6,627.4L389.2,629.5L385.8,631.7L382.5,633.9L379.2,636.2L376.0,638.6L372.9,641.0L369.8,643.6L366.8,646.2L363.9,648.9L361.0,651.7L358.2,654.5L355.4,657.4L352.7,660.4L350.1,663.4L347.6,666.5L345.2,669.6L342.8,672.8L340.5,676.1L338.4,679.5L336.3,682.9L334.4,686.4L332.6,689.9L330.9,693.5L329.4,697.2L328.0,700.9L326.7,704.7L325.5,708.5L324.5,712.4L323.5,716.2L322.7,720.1L322.1,723.9L321.5,727.8L321.0,731.7L320.4,736.0" fill="none" stroke="#f00" stroke-width="14" stroke-linejoin="round" stroke-linecap="butt"/>
<rect x="310" y="1708" width="1739" height="14"/>
<rect x="310" y="2988" width="1739" height="14"/>
<rect x="310" y="1708" width="14" height="1294"/>
<rect x="2035" y="1708" width="14" height="1294"/>
<rect x="292" y="1708" width="18" height="14"/>
<rect x="292" y="1921" width="18" height="14"/>
<rect x="292" y="2135" width="18" height="14"/>
<rect x="292" y="2348" width="18" height="14"/>
<rect x="292" y="2561" width="18" height="14"/>
<rect x="292" y="2775" width="18" height="14"/>
<rect x="292" y="2988" width="18" height="14"/>
<rect x="303" y="1815" width="7" height="14"/>
<rect x="303" y="2028" width="7" height="14"/>
<rect x="303" y="2241" width="7" height="14"/>
<rect x="303" y="2455" width="7" height="14"/>
<rect x="303" y="2668" width="7" height="14"/>
<rect x="303" y="2881" width="7" height="14"/>
<rect x="314" y="3002" width="14" height="18"/>
<rect x="742" y="3002" width="14" height="18"/>
<rect x="1169" y="3002" width="14" height="18"/>
<rect x="1596" y="3002" width="14" height="18"/>
<rect x="2024" y="3002" width="14" height="18"/>
<rect x="528" y="3002" width="14" height="6"/>
<rect x="955" y="3002" width="14" height="6"/>
<rect x="1383" y="3002" width="14" height="6"/>
<rect x="1810" y="3002" width="14" height="6"/>
<path d="M322.0,2572.0L322.3,2567.7L322.5,2563.7L322.7,2559.8L322.9,2555.9L323.2,2552.0L323.5,2548.0L323.8,2544.0L324.1,2540.1L324.4,2536.1L324.7,2532.1L325.1,2528.1L325.5,2524.1L325.9,2520.1L326.4,2516.2L327.0,2512.2L327.6,2508.3L328.3,2504.4L329.2,2500.4L330.1,2496.6L331.1,2492.7L332.2,2488.9L333.4,2485.0L334.5,2481.2L335.7,2477.4L336.9,2473.6L338.0,2469.7L339.2,2465.9L340.3,2462.1L341.5,2458.3L342.7,2454.5L344.0,2450.7L345.4,2446.9L346.8,2443.2L348.3,2439.4L349.7,2435.7L351.2,2432.0L352.7,2428.3L354.2,2424.6L355.7,2420.9L357.1,2417.1L358.4,2413.4L359.7,2409.6L361.0,2405.8L362.3,2402.0L363.6,2398.2L365.0,2394.5L366.4,2390.7L367.9,2387.0L369.5,2383.4L371.2,2379.8L373.0,2376.2L374.9,2372.7L376.8,2369.2L378.8,2365.8L381.0,2362.4L383.1,2359.0L385.4,2355.7L387.7,2352.5L390.1,2349.2L392.5,2346.1L395.0,2342.9L397.5,2339.8L400.1,2336.8L402.7,2333.7L405.4,2330.8L408.1,2327.8L410.8,2324.9L413.5,2322.0L416.3,2319.1L419.0,2316.2L421.9,2313.3L424.7,2310.5L427.6,2307.7L430.5,2305.0L433.4,2302.3L436.4,2299.6L439.4,2297.0L442.5,2294.5L445.6,2291.9L448.8,2289.5L452.0,2287.1L455.2,2284.7L458.5,2282.4L461.8,2280.2L465.1,2278.0L468.5,2275.8L471.9,2273.7L475.2,2271.6L478.6,2269.4L482.0,2267.3L485.5,2265.3L488.9,2263.2L492.4,2261.3L495.9,2259.4L499.5,2257.6L503.1,2255.9L506.7,2254.3L510.4,2252.8L514.1,2251.2L517.8,2249.7L521.5,2248.1L525.1,2246.5L528.8,2244.8L532.4,2243.1L535.9,2241.3L539.5,2239.4L543.0,2237.5L546.4,2235.6L549.9,2233.6L553.4,2231.8L557.0,2230.0L560.6,2228.4L564.3,2226.9L568.1,2225.5L571.8,2224.3L575.7,2223.0L579.5,2221.9L583.3,2220.7L587.1,2219.6L591.0,2218.5L594.8,2217.3L598.7,2216.2L602.5,2215.1L606.3,2214.0L610.2,2212.8L614.0,2211.7L617.9,2210.6L621.7,2209.4L625.5,2208.3L629.4,2207.2L633.2,2206.1L637.1,2205.0L640.9,2203.9L644.8,2202.8L648.6,2201.8L652.5,2200.7L656.4,2199.7L660.2,2198.7L664.1,2197.8L668.0,2196.8L671.9,2195.9L675.8,2194.9L679.7,2194.0L683.6,2193.0L687.4,2192.1L691.3,2191.1L695.2,2190.1L699.1,2189.2L703.0,2188.2L706.8,2187.2L710.7,2186.1L714.6,2185.1L718.4,2184.1L722.3,2183.1L726.2,2182.1L730.0,2181.0L733.9,2180.0L737.8,2179.0L741.7,2178.0L745.5,2177.0L749.4,2176.0L753.3,2175.1L757.2,2174.1L761.1,2173.1L764.9,2172.1L768.8,2171.1L772.7,2170.2L776.6,2169.2L780.4,2168.2L784.3,2167.2L788.2,2166.2L792.1,2165.3L796.0,2164.3L799.8,2163.3L803.7,2162.3L807.6,2161.3L811.5,2160.3L815.4,2159.4L819.2,2158.4L823.1,2157.4L827.0,2156.4L830.9,2155.5L834.8,2154.5L838.6,2153.5L842.5,2152.5L846.4,2151.5L850.3,2150.6L854.2,2149.6L858.0,2148.6L861.9,2147.6L865.8,2146.7L869.7,2145.7L873.6,2144.7L877.4,2143.8L881.3,2142.8L885.2,2141.8L889.1,2140.8L893.0,2139.8L896.8,2138.9L900.7,2137.9L904.6,2137.0L908.5,2136.0L912.4,2135.1L916.3,2134.2L920.2,2133.3L924.1,2132.5L928.0,2131.6L931.9,2130.8L935.8,2130.0L939.8,2129.2L943.7,2128.4L947.6,2127.6L951.5,2126.8L955.4,2126.0L959.4,2125.2L963.3,2124.4L967.2,2123.6L971.1,2122.8L975.0,2122.0L979.0,2121.2L982.9,2120.4L986.8,2119.6L990.7,2118.8L994.7,2118.0L998.6,2117.3L1002.5,2116.6L1006.5,2115.9L1010.4,2115.2L1014.4,2114.5L1018.3,2113.9L1022.3,2113.3L1026.2,2112.7L1030.2,2112.1L1034.1,2111.5L1038.1,2110.9L1042.0,2110.3L1046.0,2109.7L1049.9,2109.1L1053.9,2108.5L1057.8,2107.8L1061.8,2107.2L1065.7,2106.5L1069.7,2105.8L1073.6,2105.1L1077.6,2104.5L1081.5,2103.8L1085.5,2103.1L1089.4,2102.4L1093.3,2101.7L1097.3,2100.9L1101.2,2100.2L1105.1,2099.5L1109.1,2098.8L1113.0,2098.0L1116.9,2097.3L1120.9,2096.5L1124.8,2095.8L1128.7,2095.0L1132.6,2094.2L1136.6,2093.5L1140.5,2092.7L1144.4,2091.9L1148.3,2091.1L1152.3,2090.3L1156.2,2089.5L1160.1,2088.7L1164.0,2087.9L1167.9,2087.1L1171.9,2086.4L1175.8,2085.6L1179.7,2084.8L1183.7,2084.1L1187.6,2083.4L1191.5,2082.6L1195.5,2081.9L1199.4,2081.2L1203.3,2080.5L1207.3,2079.8L1211.2,2079.1L1215.2,2078.4L1219.1,2077.7L1223.0,2077.0L1227.0,2076.4L1230.9,2075.7L1234.9,2075.0L1238.8,2074.4L1242.8,2073.7L1246.7,2073.1L1250.7,2072.4L1254.6,2071.8L1258.6,2071.2L1262.5,2070.5L1266.5,2069.9L1270.4,2069.3L1274.4,2068.7L1278.3,2068.1L1282.3,2067.5L1286.3,2066.9L1290.2,2066.4L1294.2,2065.9L1298.1,2065.4L1302.1,2064.9L1306.1,2064.4L1310.1,2063.9L1314.0,2063.5L1318.0,2063.1L1322.0,2062.7L1326.0,2062.3L1330.0,2061.9L1334.0,2061.6L1337.9,2061.2L1341.9,2060.9L1345.9,2060.6L1349.9,2060.3L1353.9,2060.0L1357.9,2059.7L1361.9,2059.4L1365.9,2059.2L1369.9,2059.0L1373.9,2058.8L1377.9,2058.7L1381.9,2058.6L1385.9,2058.4L1389.8,2058.2L1393.8,2058.0L1397.8,2057.7L1401.8,2057.4L1405.8,2057.1L1409.8,2056.8L1413.8,2056.5L1417.8,2056.1L1421.8,2055.8L1425.7,2055.4L1429.7,2055.1L1433.7,2054.7L1437.7,2054.4L1441.7,2054.0L1445.7,2053.7L1449.7,2053.4L1453.6,2053.0L1457.6,2052.7L1461.6,2052.4L1465.6,2052.0L1469.6,2051.7L1473.6,2051.4L1477.6,2051.1L1481.6,2050.9L1485.6,2050.6L1489.6,2050.3L1493.5,2050.1L1497.5,2049.8L1501.5,2049.6L1505.5,2049.3L1509.5,2049.1L1513.5,2048.9L1517.5,2048.7L1521.5,2048.5L1525.5,2048.3L1529.5,2048.0L1533.5,2047.8L1537.5,2047.7L1541.5,2047.5L1545.5,2047.3L1549.5,2047.1L1553.5,2046.9L1557.5,2046.7L1561.5,2046.6L1565.5,2046.4L1569.5,2046.2L1573.5,2046.1L1577.5,2045.9L1581.5,2045.8L1585.5,2045.6L1589.5,2045.5L1593.5,2045.3L1597.5,2045.2L1601.5,2045.1L1605.5,2044.9L1609.5,2044.8L1613.5,2044.7L1617.5,2044.6L1621.4,2044.5L1625.4,2044.4L1629.4,2044.2L1633.4,2044.1L1637.4,2044.0L1641.4,2043.9L1645.4,2043.9L1649.4,2043.8L1653.4,2043.7L1657.4,2043.6L1661.4,2043.5L1665.4,2043.4L1669.4,2043.3L1673.4,2043.2L1677.4,2043.1L1681.4,2043.1L1685.4,2043.0L1689.4,2042.9L1693.4,2042.9L1697.5,2042.8L1701.5,2042.7L1705.5,2042.7L1709.5,2042.6L1713.5,2042.6L1717.5,2042.5L1721.5,2042.5L1725.5,2042.4L1729.5,2042.4L1733.5,2042.4L1737.5,2042.3L1741.5,2042.3L1745.5,2042.2L1749.5,2042.2L1753.5,2042.2L1757.5,2042.1L1761.5,2042.1L1765.5,2042.0L1769.5,2042.0L1773.5,2041.9L1777.5,2041.9L1781.5,2041.8L1785.5,2041.8L1789.5,2041.7L1793.5,2041.7L1797.5,2041.7L1801.5,2041.6L1805.5,2041.6L1809.5,2041.5L1813.5,2041.5L1817.5,2041.5L1821.5,2041.4L1825.5,2041.4L1829.5,2041.4L1833.5,2041.4L1837.5,2041.3L1841.5,2041.3L1845.5,2041.3L1849.5,2041.3L1853.5,2041.3L1857.5,2041.3L1861.5,2041.3L1865.5,2041.2L1869.5,2041.2L1873.5,2041.2L1877.5,2041.2L1881.5,2041.2L1885.5,2041.2L1889.5,2041.1L1893.5,2041.1L1897.5,2041.1L1901.5,2041.0L1905.5,2041.0L1909.5,2040.9L1913.5,2040.8L1917.5,2040.8L1921.5,2040.7L1925.5,2040.6L1929.5,2040.5L1933.5,2040.4L1937.5,2040.3L1941.5,2040.2L1945.5,2040.1L1949.5,2040.0L1953.5,2039.9L1957.5,2039.8L1961.5,2039.6L1965.5,2039.5L1969.5,2039.4L1973.5,2039.3L1977.5,2039.2L1981.5,2039.1L1985.5,2038.9L1989.5,2038.8L1993.5,2038.7L1997.5,2038.6L2001.5,2038.5L2005.5,2038.4L2009.4,2038.4L2013.3,2038.5L2017.0,2038.9L2020.5,2039.8L2023.6,2041.1L2026.2,2043.0L2028.3,2045.6L2029.8,2048.7L2030.8,2052.1L2031.4,2055.9L2031.7,2059.7L2031.9,2063.7L2032.0,2067.7L2032.0,2071.7L2032.0,2075.7L2031.9,2079.7L2031.7,2083.6L2031.4,2087.6L2030.9,2091.5L2030.2,2095.3L2029.2,2099.1L2027.9,2102.7L2026.3,2106.3L2024.5,2109.7L2022.6,2113.2L2020.7,2116.7L2018.8,2120.2L2017.0,2123.7L2015.1,2127.2L2013.2,2130.7L2011.1,2134.2L2009.0,2137.5L2006.7,2140.7L2004.2,2143.7L2001.5,2146.6L1998.6,2149.2L1995.4,2151.6L1992.2,2153.7L1988.7,2155.7L1985.2,2157.5L1981.5,2159.1L1977.8,2160.6L1974.1,2162.0L1970.4,2163.4L1966.6,2164.7L1962.8,2165.9L1959.0,2167.1L1955.1,2168.3L1951.3,2169.5L1947.5,2170.6L1943.6,2171.6L1939.7,2172.7L1935.9,2173.6L1932.0,2174.6L1928.1,2175.4L1924.2,2176.2L1920.2,2177.0L1916.3,2177.7L1912.3,2178.3L1908.4,2179.0L1904.4,2179.6L1900.5,2180.1L1896.5,2180.7L1892.5,2181.2L1888.6,2181.7L1884.6,2182.2L1880.6,2182.7L1876.7,2183.1L1872.7,2183.6L1868.7,2184.0L1864.7,2184.5L1860.8,2184.9L1856.8,2185.3L1852.8,2185.7L1848.8,2186.1L1844.8,2186.5L1840.8,2186.9L1836.9,2187.3L1832.9,2187.7L1828.9,2188.0L1824.9,2188.4L1820.9,2188.8L1817.0,2189.2L1813.0,2189.6L1809.0,2190.0L1805.0,2190.4L1801.0,2190.8L1797.0,2191.2L1793.1,2191.6L1789.1,2192.0L1785.1,2192.4L1781.1,2192.8L1777.1,2193.2L1773.2,2193.6L1769.2,2194.0L1765.2,2194.4L1761.2,2194.8L1757.2,2195.2L1753.3,2195.6L1749.3,2195.9L1745.3,2196.3L1741.3,2196.7L1737.3,2197.0L1733.3,2197.4L1729.3,2197.7L1725.4,2198.0L1721.4,2198.4L1717.4,2198.7L1713.4,2199.0L1709.4,2199.3L1705.4,2199.5L1701.4,2199.8L1697.4,2200.0L1693.4,2200.2L1689.4,2200.4L1685.4,2200.6L1681.4,2200.7L1677.4,2200.8L1673.4,2200.9L1669.4,2201.0L1665.4,2201.0L1661.4,2201.1L1657.4,2201.1L1653.4,2201.2L1649.4,2201.2L1645.4,2201.3L1641.4,2201.4L1637.4,2201.5L1633.4,2201.6L1629.4,2201.8L1625.4,2201.9L1621.4,2202.0L1617.4,2202.2L1613.4,2202.3L1609.4,2202.5L1605.4,2202.6L1601.4,2202.7L1597.4,2202.9L1593.5,2203.1L1589.5,2203.2L1585.5,2203.4L1581.5,2203.6L1577.5,2203.7L1573.5,2203.9L1569.5,2204.1L1565.5,2204.3L1561.5,2204.5L1557.5,2204.7L1553.5,2204.9L1549.5,2205.1L1545.5,2205.4L1541.5,2205.6L1537.5,2205.8L1533.5,2206.1L1529.5,2206.3L1525.5,2206.6L1521.5,2206.8L1517.5,2207.1L1513.6,2207.4L1509.6,2207.7L1505.6,2207.9L1501.6,2208.2L1497.6,2208.5L1493.6,2208.8L1489.6,2209.1L1485.6,2209.4L1481.6,2209.7L1477.6,2210.1L1473.7,2210.4L1469.7,2210.7L1465.7,2211.0L1461.7,2211.4L1457.7,2211.7L1453.7,2212.0L1449.7,2212.4L1445.7,2212.8L1441.8,2213.1L1437.8,2213.5L1433.8,2213.9L1429.8,2214.2L1425.8,2214.6L1421.8,2215.0L1417.9,2215.4L1413.9,2215.8L1409.9,2216.1L1405.9,2216.5L1401.9,2216.9L1398.0,2217.3L1394.0,2217.7L1390.0,2218.1L1386.0,2218.4L1382.0,2218.8L1378.0,2219.1L1374.0,2219.5L1370.1,2219.8L1366.1,2220.1L1362.1,2220.4L1358.1,2220.8L1354.1,2221.1L1350.1,2221.5L1346.1,2221.9L1342.2,2222.3L1338.2,2222.7L1334.2,2223.1L1330.2,2223.6L1326.3,2224.1L1322.3,2224.6L1318.3,2225.1L1314.4,2225.6L1310.4,2226.2L1306.4,2226.8L1302.5,2227.4L1298.5,2228.0L1294.6,2228.7L1290.7,2229.4L1286.7,2230.1L1282.8,2230.9L1278.9,2231.7L1275.0,2232.5L1271.0,2233.3L1267.1,2234.1L1263.2,2235.0L1259.3,2235.9L1255.4,2236.8L1251.5,2237.8L1247.7,2238.8L1243.8,2239.8L1239.9,2240.8L1236.1,2241.8L1232.2,2242.9L1228.4,2244.0L1224.5,2245.1L1220.7,2246.2L1216.8,2247.3L1213.0,2248.4L1209.2,2249.6L1205.4,2250.8L1201.6,2252.1L1197.8,2253.4L1194.0,2254.8L1190.3,2256.2L1186.6,2257.7L1182.9,2259.3L1179.3,2260.9L1175.7,2262.6L1172.0,2264.3L1168.4,2266.0L1164.8,2267.6L1161.1,2269.2L1157.4,2270.7L1153.6,2272.1L1149.9,2273.5L1146.1,2274.8L1142.4,2276.2L1138.6,2277.6L1134.9,2279.0L1131.2,2280.5L1127.5,2282.1L1123.9,2283.8L1120.3,2285.5L1116.7,2287.3L1113.1,2289.0L1109.5,2290.8L1105.9,2292.5L1102.3,2294.2L1098.7,2296.0L1095.1,2297.8L1091.6,2299.6L1088.1,2301.5L1084.7,2303.6L1081.4,2305.8L1078.1,2308.1L1075.0,2310.5L1071.9,2313.0L1068.8,2315.6L1065.9,2318.3L1062.9,2321.0L1059.9,2323.7L1057.0,2326.4L1054.1,2329.1L1051.1,2331.8L1048.2,2334.5L1045.2,2337.2L1042.3,2339.9L1039.3,2342.6L1036.3,2345.3L1033.3,2347.9L1030.4,2350.6L1027.4,2353.3L1024.4,2355.9L1021.4,2358.6L1018.4,2361.2L1015.4,2363.9L1012.4,2366.6L1009.5,2369.3L1006.5,2372.0L1003.5,2374.6L1000.6,2377.3L997.6,2380.0L994.7,2382.7L991.7,2385.4L988.8,2388.1L985.9,2390.9L983.1,2393.7L980.2,2396.5L977.4,2399.3L974.5,2402.2L971.7,2405.0L968.9,2407.8L966.0,2410.6L963.2,2413.4L960.3,2416.2L957.5,2419.1L954.7,2421.9L951.9,2424.8L949.1,2427.6L946.3,2430.5L943.6,2433.5L940.9,2436.4L938.2,2439.4L935.5,2442.3L932.9,2445.3L930.2,2448.3L927.6,2451.3L924.9,2454.3L922.2,2457.2L919.5,2460.2L916.8,2463.1L914.0,2466.0L911.2,2468.9L908.4,2471.7L905.6,2474.6L902.8,2477.4L899.9,2480.2L897.1,2483.0L894.2,2485.8L891.4,2488.7L888.6,2491.5L885.7,2494.3L882.9,2497.2L880.1,2500.0L877.3,2502.8L874.4,2505.6L871.6,2508.5L868.8,2511.3L865.9,2514.1L863.1,2516.9L860.3,2519.8L857.4,2522.6L854.6,2525.4L851.8,2528.3L849.0,2531.1L846.2,2533.9L843.3,2536.8L840.5,2539.6L837.6,2542.3L834.7,2545.1L831.7,2547.8L828.8,2550.5L825.8,2553.1L822.8,2555.8L819.7,2558.4L816.7,2560.9L813.6,2563.5L810.5,2566.0L807.4,2568.6L804.3,2571.1L801.1,2573.6L798.0,2576.1L794.9,2578.6L791.8,2581.1L788.6,2583.6L785.5,2586.0L782.4,2588.5L779.3,2591.1L776.1,2593.6L773.0,2596.1L769.9,2598.6L766.8,2601.1L763.6,2603.5L760.5,2606.0L757.3,2608.4L754.1,2610.8L750.8,2613.1L747.5,2615.3L744.2,2617.5L740.8,2619.6L737.3,2621.6L733.8,2623.5L730.3,2625.4L726.7,2627.2L723.1,2629.0L719.5,2630.7L715.9,2632.5L712.3,2634.2L708.7,2635.9L705.1,2637.6L701.4,2639.2L697.8,2640.8L694.1,2642.3L690.3,2643.7L686.5,2644.9L682.7,2645.9L678.8,2646.9L674.9,2647.7L671.0,2648.4L667.0,2649.1L663.1,2649.6L659.1,2650.1L655.1,2650.6L651.2,2650.9L647.2,2651.2L643.2,2651.4L639.2,2651.4L635.2,2651.4L631.2,2651.2L627.2,2651.0L623.3,2650.6L619.3,2650.0L615.4,2649.4L611.5,2648.6L607.6,2647.7L603.7,2646.7L599.9,2645.7L596.0,2644.5L592.2,2643.3L588.4,2642.1L584.6,2640.8L580.9,2639.5L577.1,2638.1L573.3,2636.7L569.6,2635.3L565.9,2633.9L562.1,2632.4L558.4,2630.9L554.8,2629.3L551.1,2627.7L547.5,2625.9L544.0,2624.1L540.4,2622.3L536.9,2620.4L533.4,2618.5L529.9,2616.5L526.4,2614.6L522.9,2612.6L519.4,2610.7L515.9,2608.7L512.4,2606.8L508.9,2605.0L505.3,2603.1L501.8,2601.3L498.2,2599.5L494.6,2597.7L491.1,2595.9L487.5,2594.0L484.0,2592.1L480.5,2590.2L477.1,2588.2L473.7,2586.1L470.3,2583.9L466.9,2581.8L463.6,2579.6L460.2,2577.4L456.9,2575.2L453.5,2573.0L450.2,2570.8L446.9,2568.6L443.5,2566.4L440.2,2564.2L436.8,2562.0L433.5,2559.8L430.1,2557.6L426.8,2555.4L423.4,2553.2L420.0,2551.1L416.7,2549.0L413.2,2546.9L409.8,2544.8L406.4,2542.8L402.9,2540.9L399.4,2538.9L395.8,2537.1L392.3,2535.2L388.7,2533.4L385.1,2531.6L381.5,2529.9L377.9,2528.1L374.3,2526.5L370.7,2524.8L367.0,2523.1L363.4,2521.5L359.7,2519.9L356.0,2518.4L352.3,2516.8L348.6,2515.3L344.9,2513.8L341.3,2512.2L337.7,2510.7L334.1,2509.1L330.5,2507.5L326.9,2505.9L323.0,2504.0" fill="none" stroke="#000" stroke-width="14" stroke-linejoin="round" stroke-linecap="butt"/>
<path d="M321.5,2491.5L325.7,2490.6L329.6,2489.8L333.5,2489.0L337.3,2488.2L341.2,2487.6L345.1,2487.0L349.0,2486.5L353.0,2486.0L357.0,2485.6L361.0,2485.2L365.0,2484.9L368.9,2484.6L372.9,2484.4L376.9,2484.1L380.9,2483.9L384.9,2483.8L388.9,2483.6L392.9,2483.4L396.9,2483.3L400.9,2483.2L404.9,2483.1L408.9,2483.0L412.9,2483.0L416.9,2483.0L420.9,2483.0L424.9,2483.1L428.9,2483.3L432.9,2483.4L436.9,2483.7L440.9,2484.0L444.9,2484.5L448.8,2484.9L452.8,2485.5L456.7,2486.1L460.7,2486.7L464.6,2487.3L468.6,2488.0L472.5,2488.6L476.5,2489.1L480.5,2489.6L484.4,2490.1L488.4,2490.4L492.4,2490.8L496.4,2491.2L500.4,2491.6L504.3,2492.1L508.3,2492.6L512.2,2493.3L516.1,2494.1L520.1,2494.9L524.0,2495.7L527.9,2496.6L531.8,2497.5L535.6,2498.5L539.5,2499.4L543.4,2500.4L547.3,2501.4L551.2,2502.4L555.0,2503.4L558.9,2504.5L562.7,2505.6L566.5,2506.8L570.3,2508.0L574.1,2509.4L577.8,2510.9L581.5,2512.4L585.1,2514.1L588.7,2515.8L592.3,2517.6L595.8,2519.5L599.3,2521.4L602.8,2523.4L606.2,2525.5L609.6,2527.6L612.9,2529.8L616.2,2532.1L619.4,2534.4L622.6,2536.8L625.7,2539.4L628.7,2541.9L631.7,2544.6L634.6,2547.3L637.5,2550.1L640.3,2553.0L643.0,2555.9L645.7,2558.9L648.3,2561.9L650.9,2565.0L653.3,2568.1L655.7,2571.3L658.0,2574.6L660.2,2577.9L662.4,2581.3L664.4,2584.7L666.5,2588.1L668.4,2591.6L670.3,2595.2L672.1,2598.7L673.9,2602.3L675.6,2605.9L677.3,2609.5L679.0,2613.2L680.6,2616.8L682.3,2620.5L683.8,2624.2L685.4,2627.8L686.9,2631.5L688.4,2635.2L689.9,2639.0L691.5,2642.7L693.0,2646.3L694.6,2650.0L696.1,2653.7L697.7,2657.4L699.3,2661.0L700.9,2664.7L702.5,2668.4L704.1,2672.1L705.6,2675.8L707.1,2679.5L708.6,2683.2L710.1,2686.9L711.5,2690.6L712.9,2694.4L714.3,2698.2L715.6,2701.9L716.9,2705.7L718.2,2709.5L719.4,2713.3L720.7,2717.1L721.9,2720.9L723.2,2724.7L724.5,2728.5L725.8,2732.3L727.1,2736.0L728.4,2739.8L729.8,2743.6L731.1,2747.4L732.5,2751.1L733.8,2754.9L735.2,2758.7L736.5,2762.4L737.8,2766.2L739.2,2770.0L740.5,2773.7L741.9,2777.5L743.2,2781.3L744.6,2785.1L745.9,2788.8L747.3,2792.6L748.7,2796.3L750.1,2800.1L751.5,2803.8L752.9,2807.6L754.3,2811.3L755.8,2815.0L757.3,2818.8L758.7,2822.5L760.2,2826.2L761.7,2829.9L763.2,2833.6L764.7,2837.3L766.3,2841.0L767.8,2844.7L769.4,2848.4L770.9,2852.1L772.5,2855.8L774.1,2859.4L775.7,2863.1L777.4,2866.7L779.2,2870.2L781.1,2873.7L783.2,2877.1L785.5,2880.3L788.0,2883.3L790.7,2886.2L793.6,2888.9L796.6,2891.4L799.8,2893.8L803.1,2896.0L806.4,2898.0L809.9,2899.5L813.4,2900.6L816.9,2901.0L820.5,2900.8L823.9,2899.9L827.2,2898.3L830.2,2896.2L833.1,2893.7L835.7,2890.8L838.2,2887.8L840.5,2884.6L842.8,2881.3L845.0,2878.0L847.1,2874.6L849.2,2871.2L851.3,2867.8L853.4,2864.3L855.4,2860.9L857.4,2857.4L859.3,2853.9L861.3,2850.4L863.2,2846.9L865.0,2843.3L866.8,2839.8L868.6,2836.2L870.3,2832.6L871.9,2828.9L873.5,2825.3L875.1,2821.6L876.6,2817.9L878.0,2814.1L879.4,2810.4L880.7,2806.6L881.9,2802.8L883.1,2799.0L884.2,2795.1L885.3,2791.3L886.4,2787.4L887.5,2783.6L888.7,2779.8L889.8,2775.9L891.1,2772.1L892.3,2768.3L893.6,2764.6L895.0,2760.8L896.3,2757.0L897.7,2753.3L899.0,2749.5L900.4,2745.7L901.7,2742.0L903.1,2738.2L904.4,2734.4L905.8,2730.7L907.1,2726.9L908.5,2723.1L909.8,2719.4L911.2,2715.6L912.6,2711.8L914.0,2708.1L915.5,2704.4L916.9,2700.7L918.4,2696.9L919.9,2693.2L921.3,2689.5L922.7,2685.7L924.0,2682.0L925.3,2678.2L926.6,2674.4L927.8,2670.6L928.9,2666.7L930.1,2662.9L931.2,2659.1L932.4,2655.2L933.6,2651.4L934.8,2647.6L936.1,2643.8L937.4,2640.0L938.7,2636.3L940.0,2632.5L941.3,2628.7L942.6,2624.9L944.0,2621.1L945.3,2617.4L946.6,2613.6L947.9,2609.8L949.2,2606.0L950.6,2602.3L952.0,2598.5L953.4,2594.8L954.9,2591.1L956.4,2587.3L957.9,2583.6L959.4,2580.0L961.0,2576.3L962.6,2572.6L964.2,2568.9L965.8,2565.3L967.4,2561.6L969.0,2557.9L970.6,2554.3L972.2,2550.6L973.9,2547.0L975.6,2543.4L977.3,2539.7L979.1,2536.1L980.8,2532.5L982.6,2529.0L984.4,2525.4L986.2,2521.8L988.0,2518.2L989.8,2514.6L991.5,2511.1L993.3,2507.5L995.1,2503.9L997.0,2500.4L998.8,2496.8L1000.7,2493.3L1002.6,2489.8L1004.6,2486.3L1006.5,2482.8L1008.5,2479.3L1010.5,2475.8L1012.5,2472.4L1014.6,2468.9L1016.6,2465.5L1018.7,2462.1L1020.8,2458.7L1022.9,2455.3L1025.0,2451.9L1027.1,2448.5L1029.3,2445.1L1031.5,2441.8L1033.7,2438.5L1036.0,2435.2L1038.3,2431.9L1040.7,2428.7L1043.0,2425.4L1045.5,2422.3L1047.9,2419.1L1050.4,2416.0L1053.0,2412.9L1055.6,2409.9L1058.3,2407.0L1061.1,2404.1L1063.9,2401.3L1066.8,2398.5L1069.7,2395.7L1072.6,2393.0L1075.6,2390.3L1078.5,2387.6L1081.5,2384.9L1084.5,2382.2L1087.4,2379.6L1090.4,2376.9L1093.4,2374.2L1096.3,2371.5L1099.3,2368.9L1102.4,2366.3L1105.4,2363.7L1108.5,2361.1L1111.6,2358.6L1114.7,2356.1L1117.9,2353.7L1121.1,2351.3L1124.3,2348.9L1127.6,2346.6L1130.9,2344.3L1134.2,2342.1L1137.6,2340.0L1141.0,2337.9L1144.5,2335.9L1147.9,2333.9L1151.4,2332.0L1155.0,2330.1L1158.5,2328.2L1162.1,2326.5L1165.7,2324.7L1169.3,2323.0L1173.0,2321.3L1176.6,2319.7L1180.3,2318.1L1184.0,2316.6L1187.7,2315.1L1191.4,2313.7L1195.2,2312.3L1198.9,2310.9L1202.7,2309.6L1206.5,2308.2L1210.2,2306.8L1214.0,2305.5L1217.7,2304.0L1221.5,2302.6L1225.2,2301.2L1228.9,2299.7L1232.6,2298.3L1236.4,2296.9L1240.2,2295.5L1243.9,2294.2L1247.7,2292.9L1251.5,2291.7L1255.4,2290.6L1259.2,2289.5L1263.1,2288.4L1266.9,2287.4L1270.8,2286.4L1274.7,2285.5L1278.6,2284.5L1282.5,2283.7L1286.4,2282.8L1290.3,2282.0L1294.3,2281.2L1298.2,2280.5L1302.1,2279.8L1306.1,2279.1L1310.0,2278.4L1314.0,2277.8L1317.9,2277.2L1321.9,2276.6L1325.8,2276.0L1329.8,2275.4L1333.8,2274.8L1337.7,2274.3L1341.7,2273.7L1345.6,2273.2L1349.6,2272.8L1353.6,2272.3L1357.6,2272.0L1361.6,2271.6L1365.5,2271.3L1369.5,2270.9L1373.5,2270.6L1377.5,2270.2L1381.5,2269.8L1385.5,2269.3L1389.4,2268.9L1393.4,2268.4L1397.4,2267.9L1401.4,2267.4L1405.3,2266.9L1409.3,2266.5L1413.3,2266.0L1417.2,2265.5L1421.2,2265.0L1425.2,2264.5L1429.2,2264.0L1433.1,2263.5L1437.1,2263.1L1441.1,2262.6L1445.1,2262.2L1449.0,2261.7L1453.0,2261.3L1457.0,2260.9L1461.0,2260.5L1465.0,2260.1L1468.9,2259.8L1472.9,2259.4L1476.9,2259.1L1480.9,2258.7L1484.9,2258.4L1488.9,2258.1L1492.9,2257.8L1496.9,2257.5L1500.9,2257.2L1504.8,2257.0L1508.8,2256.7L1512.8,2256.5L1516.8,2256.2L1520.8,2256.0L1524.8,2255.7L1528.8,2255.5L1532.8,2255.3L1536.8,2255.1L1540.8,2254.9L1544.8,2254.7L1548.8,2254.5L1552.8,2254.3L1556.8,2254.1L1560.8,2253.9L1564.8,2253.7L1568.8,2253.6L1572.8,2253.4L1576.8,2253.3L1580.8,2253.1L1584.8,2253.0L1588.8,2252.9L1592.8,2252.7L1596.8,2252.6L1600.8,2252.5L1604.8,2252.4L1608.8,2252.3L1612.8,2252.1L1616.8,2252.0L1620.8,2251.9L1624.8,2251.8L1628.8,2251.7L1632.8,2251.5L1636.8,2251.4L1640.8,2251.3L1644.8,2251.2L1648.8,2251.1L1652.8,2251.0L1656.8,2250.9L1660.8,2250.8L1664.8,2250.6L1668.8,2250.5L1672.8,2250.4L1676.8,2250.2L1680.8,2250.0L1684.8,2249.8L1688.8,2249.5L1692.7,2249.2L1696.7,2248.8L1700.7,2248.4L1704.7,2248.0L1708.7,2247.6L1712.7,2247.1L1716.6,2246.7L1720.6,2246.2L1724.6,2245.6L1728.5,2245.1L1732.5,2244.6L1736.5,2244.1L1740.4,2243.5L1744.4,2243.0L1748.4,2242.4L1752.3,2241.9L1756.3,2241.3L1760.2,2240.7L1764.2,2240.1L1768.2,2239.5L1772.1,2238.9L1776.1,2238.3L1780.0,2237.7L1784.0,2237.1L1787.9,2236.5L1791.9,2235.9L1795.9,2235.3L1799.8,2234.7L1803.8,2234.1L1807.7,2233.5L1811.7,2233.0L1815.6,2232.4L1819.6,2231.8L1823.6,2231.2L1827.5,2230.7L1831.5,2230.1L1835.4,2229.5L1839.4,2228.9L1843.4,2228.4L1847.3,2227.8L1851.3,2227.2L1855.2,2226.6L1859.2,2226.0L1863.1,2225.4L1867.1,2224.7L1871.0,2224.1L1875.0,2223.4L1878.9,2222.7L1882.9,2222.0L1886.8,2221.2L1890.7,2220.5L1894.7,2219.7L1898.6,2218.9L1902.5,2218.1L1906.4,2217.3L1910.3,2216.4L1914.2,2215.5L1918.1,2214.6L1922.0,2213.7L1925.9,2212.7L1929.8,2211.7L1933.6,2210.6L1937.5,2209.5L1941.3,2208.4L1945.1,2207.1L1948.9,2205.8L1952.6,2204.4L1956.3,2203.0L1960.0,2201.4L1963.6,2199.7L1967.2,2198.0L1970.7,2196.1L1974.2,2194.1L1977.5,2191.9L1980.8,2189.7L1983.9,2187.2L1987.0,2184.7L1989.9,2182.0L1992.8,2179.2L1995.5,2176.3L1998.1,2173.3L2000.6,2170.2L2003.0,2167.0L2005.2,2163.7L2007.3,2160.3L2009.3,2156.9L2011.3,2153.4L2013.1,2149.8L2014.8,2146.2L2016.4,2142.6L2017.8,2138.9L2019.2,2135.1L2020.5,2131.3L2021.6,2127.5L2022.6,2123.6L2023.5,2119.8L2024.2,2115.8L2024.8,2111.9L2025.3,2107.9L2025.8,2104.0L2026.1,2100.0L2026.3,2096.0L2026.5,2092.0L2026.7,2088.0L2026.9,2084.0L2027.0,2080.0L2027.1,2076.0L2027.2,2072.0L2027.3,2068.0L2027.4,2064.0L2027.5,2060.0L2027.6,2056.0L2027.7,2052.0L2027.8,2048.0L2027.9,2044.0L2028.0,2040.0L2028.1,2036.0L2028.3,2032.0L2028.4,2028.0L2028.5,2024.0L2028.7,2020.0L2028.8,2016.0L2028.9,2012.0L2029.1,2008.0L2029.2,2004.0L2029.3,2000.0L2029.5,1996.0L2029.6,1992.0L2029.7,1988.0L2029.9,1984.1L2030.0,1980.2L2030.1,1976.3L2030.1,1972.3L2030.1,1968.2L2030.0,1966.0L2030.0,1966.0L2026.1,1964.7L2022.1,1964.6L2018.2,1964.7L2014.3,1964.7L2010.4,1964.8L2006.4,1964.8L2002.5,1964.9L1998.5,1965.0L1994.5,1965.0L1990.5,1965.0L1986.5,1965.1L1982.5,1965.1L1978.5,1965.1L1974.5,1965.2L1970.5,1965.2L1966.5,1965.2L1962.5,1965.3L1958.5,1965.3L1954.5,1965.3L1950.5,1965.3L1946.5,1965.4L1942.5,1965.4L1938.5,1965.4L1934.5,1965.5L1930.5,1965.5L1926.5,1965.5L1922.5,1965.6L1918.5,1965.6L1914.5,1965.7L1910.5,1965.7L1906.5,1965.8L1902.5,1965.8L1898.5,1965.8L1894.5,1965.9L1890.5,1965.9L1886.5,1966.0L1882.5,1966.0L1878.5,1966.1L1874.5,1966.1L1870.5,1966.2L1866.5,1966.2L1862.5,1966.3L1858.5,1966.3L1854.5,1966.4L1850.5,1966.5L1846.5,1966.6L1842.5,1966.7L1838.5,1966.8L1834.5,1966.9L1830.5,1967.0L1826.5,1967.1L1822.5,1967.2L1818.5,1967.4L1814.5,1967.5L1810.5,1967.7L1806.5,1967.9L1802.5,1968.1L1798.5,1968.3L1794.5,1968.4L1790.5,1968.6L1786.5,1968.8L1782.5,1969.1L1778.5,1969.3L1774.5,1969.5L1770.5,1969.7L1766.5,1969.9L1762.6,1970.1L1758.6,1970.4L1754.6,1970.6L1750.6,1970.8L1746.6,1971.0L1742.6,1971.3L1738.6,1971.5L1734.6,1971.7L1730.6,1971.9L1726.6,1972.1L1722.6,1972.3L1718.6,1972.5L1714.6,1972.8L1710.6,1973.0L1706.6,1973.2L1702.6,1973.4L1698.7,1973.7L1694.7,1974.0L1690.7,1974.2L1686.7,1974.5L1682.7,1974.8L1678.7,1975.1L1674.7,1975.3L1670.7,1975.6L1666.7,1975.9L1662.7,1976.2L1658.8,1976.5L1654.8,1976.8L1650.8,1977.2L1646.8,1977.5L1642.8,1977.8L1638.8,1978.1L1634.8,1978.4L1630.8,1978.7L1626.9,1979.1L1622.9,1979.4L1618.9,1979.7L1614.9,1980.1L1610.9,1980.4L1606.9,1980.8L1602.9,1981.1L1599.0,1981.5L1595.0,1981.9L1591.0,1982.2L1587.0,1982.6L1583.0,1983.0L1579.0,1983.4L1575.1,1983.8L1571.1,1984.3L1567.1,1984.7L1563.1,1985.1L1559.2,1985.6L1555.2,1986.1L1551.2,1986.5L1547.2,1987.0L1543.3,1987.5L1539.3,1987.9L1535.3,1988.4L1531.4,1988.9L1527.4,1989.4L1523.4,1989.9L1519.5,1990.4L1515.5,1990.8L1511.5,1991.3L1507.5,1991.8L1503.6,1992.3L1499.6,1992.8L1495.6,1993.2L1491.7,1993.7L1487.7,1994.1L1483.7,1994.6L1479.7,1995.0L1475.8,1995.5L1471.8,1995.9L1467.8,1996.4L1463.8,1996.8L1459.8,1997.3L1455.9,1997.7L1451.9,1998.1L1447.9,1998.6L1443.9,1999.0L1440.0,1999.4L1436.0,1999.8L1432.0,2000.3L1428.0,2000.7L1424.1,2001.1L1420.1,2001.5L1416.1,2001.9L1412.1,2002.3L1408.1,2002.7L1404.2,2003.0L1400.2,2003.4L1396.2,2003.7L1392.2,2003.9L1388.2,2004.2L1384.2,2004.4L1380.2,2004.5L1376.2,2004.8L1372.2,2005.0L1368.2,2005.3L1364.3,2005.6L1360.3,2006.1L1356.3,2006.5L1352.4,2007.1L1348.4,2007.6L1344.4,2008.2L1340.5,2008.8L1336.5,2009.4L1332.6,2010.0L1328.6,2010.6L1324.7,2011.2L1320.7,2011.9L1316.8,2012.5L1312.8,2013.1L1308.9,2013.7L1304.9,2014.3L1300.9,2014.9L1297.0,2015.5L1293.0,2016.0L1289.1,2016.6L1285.1,2017.2L1281.2,2017.8L1277.2,2018.3L1273.2,2018.9L1269.3,2019.4L1265.3,2020.0L1261.4,2020.5L1257.4,2021.1L1253.4,2021.6L1249.5,2022.1L1245.5,2022.6L1241.5,2023.1L1237.5,2023.6L1233.6,2024.1L1229.6,2024.5L1225.6,2024.9L1221.6,2025.3L1217.7,2025.7L1213.7,2026.1L1209.7,2026.5L1205.7,2027.0L1201.7,2027.4L1197.8,2027.8L1193.8,2028.3L1189.8,2028.8L1185.9,2029.3L1181.9,2029.8L1177.9,2030.4L1174.0,2031.0L1170.0,2031.6L1166.1,2032.2L1162.1,2032.9L1158.2,2033.5L1154.2,2034.2L1150.3,2034.9L1146.4,2035.6L1142.4,2036.3L1138.5,2037.1L1134.6,2037.8L1130.6,2038.5L1126.7,2039.3L1122.8,2040.1L1118.9,2040.8L1114.9,2041.6L1111.0,2042.5L1107.1,2043.3L1103.2,2044.2L1099.3,2045.1L1095.4,2045.9L1091.5,2046.8L1087.6,2047.6L1083.7,2048.3L1079.7,2049.0L1075.8,2049.6L1071.8,2050.0L1067.8,2050.3L1063.9,2050.6L1059.9,2050.7L1055.9,2050.7L1051.9,2050.8L1047.9,2050.8L1043.9,2051.0L1040.0,2051.3L1036.0,2051.7L1032.0,2052.1L1028.1,2052.6L1024.1,2053.0L1020.1,2053.3L1016.2,2053.5L1012.2,2053.6L1008.2,2053.5L1004.2,2053.3L1000.2,2052.9L996.3,2052.5L992.3,2051.9L988.4,2051.3L984.5,2050.5L980.6,2049.7L976.7,2048.7L972.9,2047.6L969.0,2046.5L965.3,2045.2L961.6,2043.7L958.0,2042.0L954.5,2040.2L951.1,2038.1L947.8,2035.9L944.6,2033.6L941.5,2031.1L938.4,2028.5L935.4,2025.9L932.5,2023.2L929.7,2020.4L926.9,2017.5L924.2,2014.5L921.6,2011.5L919.1,2008.4L916.7,2005.3L914.3,2002.1L911.9,1998.8L909.6,1995.6L907.4,1992.3L905.1,1988.9L902.9,1985.6L900.7,1982.3L898.5,1978.9L896.3,1975.6L894.1,1972.3L891.8,1969.0L889.4,1965.8L886.9,1962.8L884.3,1959.8L881.5,1956.9L878.7,1954.1L875.8,1951.3L872.8,1948.7L869.8,1946.1L866.8,1943.5L863.6,1941.1L860.4,1938.9L857.0,1937.1L853.5,1935.6L849.9,1934.6L846.3,1934.2L842.7,1934.5L839.1,1935.3L835.6,1936.7L832.3,1938.6L829.2,1940.8L826.2,1943.4L823.3,1946.1L820.5,1948.9L817.9,1951.9L815.2,1954.9L812.6,1957.9L810.1,1961.0L807.6,1964.2L805.1,1967.3L802.7,1970.5L800.3,1973.6L797.8,1976.8L795.4,1980.0L793.0,1983.2L790.6,1986.4L788.3,1989.6L786.0,1992.9L783.8,1996.2L781.7,1999.6L779.7,2003.1L777.7,2006.5L775.7,2010.0L773.8,2013.5L771.9,2017.1L770.0,2020.6L768.1,2024.1L766.3,2027.6L764.4,2031.2L762.5,2034.7L760.5,2038.2L758.6,2041.7L756.5,2045.1L754.5,2048.5L752.4,2051.9L750.2,2055.3L748.0,2058.6L745.8,2062.0L743.6,2065.3L741.4,2068.6L739.2,2072.0L736.9,2075.3L734.7,2078.6L732.4,2081.9L730.1,2085.1L727.6,2088.3L725.1,2091.4L722.6,2094.4L719.9,2097.4L717.2,2100.3L714.4,2103.2L711.6,2106.0L708.7,2108.8L705.8,2111.5L702.8,2114.2L699.8,2116.8L696.7,2119.4L693.6,2121.9L690.5,2124.5L687.4,2126.9L684.2,2129.4L681.0,2131.8L677.8,2134.2L674.6,2136.5L671.3,2138.7L667.9,2140.9L664.5,2143.0L661.1,2145.1L657.6,2147.1L654.1,2148.9L650.6,2150.7L647.0,2152.5L643.3,2154.1L639.6,2155.7L635.9,2157.2L632.2,2158.6L628.5,2160.0L624.7,2161.3L620.9,2162.7L617.1,2164.0L613.3,2165.2L609.6,2166.5L605.8,2167.9L602.0,2169.2L598.3,2170.6L594.5,2172.0L590.8,2173.5L587.2,2175.1L583.5,2176.7L579.8,2178.2L576.1,2179.8L572.4,2181.3L568.7,2182.7L564.9,2184.1L561.2,2185.4L557.4,2186.6L553.6,2187.9L549.8,2189.1L546.0,2190.4L542.2,2191.8L538.5,2193.2L534.8,2194.6L531.1,2196.1L527.4,2197.7L523.7,2199.2L520.1,2200.9L516.4,2202.5L512.7,2204.1L509.0,2205.6L505.4,2207.2L501.7,2208.7L497.9,2210.2L494.3,2211.7L490.6,2213.3L486.9,2214.9L483.3,2216.6L479.7,2218.3L476.1,2220.0L472.5,2221.8L468.9,2223.6L465.3,2225.3L461.7,2227.0L458.1,2228.7L454.4,2230.4L450.8,2232.0L447.2,2233.7L443.6,2235.5L440.1,2237.3L436.6,2239.2L433.1,2241.2L429.7,2243.3L426.2,2245.4L422.9,2247.5L419.5,2249.7L416.2,2251.9L412.8,2254.1L409.5,2256.4L406.3,2258.6L403.0,2261.0L399.8,2263.3L396.6,2265.7L393.5,2268.2L390.4,2270.7L387.4,2273.3L384.4,2276.0L381.6,2278.8L378.7,2281.7L376.0,2284.5L373.3,2287.5L370.5,2290.4L367.8,2293.3L365.1,2296.3L362.4,2299.3L359.8,2302.2L357.2,2305.3L354.6,2308.4L352.2,2311.5L349.8,2314.7L347.5,2318.0L345.4,2321.3L343.4,2324.8L341.5,2328.3L339.8,2331.9L338.3,2335.5L336.9,2339.3L335.6,2343.0L334.4,2346.9L333.4,2350.7L332.5,2354.6L331.6,2358.5L330.8,2362.4L330.1,2366.3L329.5,2370.3L329.0,2374.3L328.5,2378.2L328.1,2382.2L327.8,2386.2L327.5,2390.2L327.2,2394.2L326.9,2398.1L326.7,2402.1L326.5,2406.1L326.2,2410.1L326.0,2414.1L325.7,2418.1L325.4,2422.1L325.1,2426.1L324.8,2430.0L324.5,2434.0L324.2,2437.9L323.9,2441.8L323.5,2445.7L323.2,2449.8L323.0,2452.0" fill="none" stroke="#f00" stroke-width="14" stroke-linejoin="round" stroke-linecap="butt"/>
<text x="275.1" y="1733.5" font-size="67" text-anchor="end">10</text>
<text x="275.0" y="1946.8" font-size="67" text-anchor="end">5</text>
<text x="275.1" y="2160.2" font-size="67" text-anchor="end">0</text>
<text x="275.0" y="2373.5" font-size="67" text-anchor="end">-5</text>
<text x="275.1" y="2586.8" font-size="67" text-anchor="end">-10</text>
<text x="275.0" y="2800.2" font-size="67" text-anchor="end">-15</text>
<text x="275.1" y="3013.5" font-size="67" text-anchor="end">-20</text>
<text x="321.0" y="3087.0" font-size="67" text-anchor="middle">-0.8</text>
<text x="748.5" y="3087.0" font-size="67" text-anchor="middle">-0.6</text>
<text x="1176.0" y="3087.0" font-size="67" text-anchor="middle">-0.4</text>
<text x="1603.5" y="3087.0" font-size="67" text-anchor="middle">-0.2</text>
<text x="2031.0" y="3087.0" font-size="67" text-anchor="middle">0.0</text>
<text x="886.4" y="3211.7" font-size="80" textLength="589.0" lengthAdjust="spacingAndGlyphs">E/V (vs. Ag/AgCl)</text>
<text transform="translate(86.3,2606.8) rotate(-90)" x="0" y="0" font-size="80" textLength="468.4" lengthAdjust="spacingAndGlyphs">Current (uA)</text>
<text x="363.4" y="1832.5" font-size="98" textLength="98.9" lengthAdjust="spacingAndGlyphs">B)</text>
<text x="1522.0" y="1832.0" font-size="78" textLength="448.4" lengthAdjust="spacingAndGlyphs">AuNPs-SPCE</text>
<rect x="1542" y="2543.0" width="122" height="10" fill="#000"/>
<rect x="1542" y="2611.0" width="122" height="14" fill="#f00"/>
<text x="1677.3" y="2566.6" font-size="54" textLength="286.8" lengthAdjust="spacingAndGlyphs">0 mM of RF</text>
<text x="1677.5" y="2637.7" font-size="54" textLength="297.1" lengthAdjust="spacingAndGlyphs">68mM of RF</text>
<line x1="1168" y1="1942.5" x2="1349" y2="1928.75" stroke="#000" stroke-width="3"/>
<polygon points="1347,1916 1380.75,1926 1347,1940.5"/>
<text x="1062.0" y="2953.8" font-size="60" textLength="110.6" lengthAdjust="spacingAndGlyphs">PBS</text>
<text x="1338.6" y="2954.0" font-size="60" textLength="191.2" lengthAdjust="spacingAndGlyphs">50mV/s</text>
<rect x="311" y="3375" width="1746" height="14"/>
<rect x="311" y="4650" width="1746" height="15"/>
<rect x="311" y="3375" width="14" height="1290"/>
<rect x="2042" y="3375" width="15" height="1290"/>
<rect x="292" y="3375" width="19" height="14"/>
<rect x="292" y="3557" width="19" height="14"/>
<rect x="292" y="3739" width="19" height="14"/>
<rect x="292" y="3922" width="19" height="14"/>
<rect x="292" y="4104" width="19" height="14"/>
<rect x="292" y="4286" width="19" height="14"/>
<rect x="292" y="4468" width="19" height="14"/>
<rect x="292" y="4650" width="19" height="14"/>
<rect x="304" y="3466" width="7" height="14"/>
<rect x="304" y="3648" width="7" height="14"/>
<rect x="304" y="3831" width="7" height="14"/>
<rect x="304" y="4013" width="7" height="14"/>
<rect x="304" y="4195" width="7" height="14"/>
<rect x="304" y="4377" width="7" height="14"/>
<rect x="304" y="4559" width="7" height="14"/>
<rect x="311" y="4665" width="14" height="18"/>
<rect x="744" y="4665" width="14" height="18"/>
<rect x="1177" y="4665" width="14" height="18"/>
<rect x="1610" y="4665" width="14" height="18"/>
<rect x="2042" y="4665" width="14" height="18"/>
<rect x="527" y="4665" width="14" height="6"/>
<rect x="960" y="4665" width="14" height="6"/>
<rect x="1393" y="4665" width="14" height="6"/>
<rect x="1826" y="4665" width="14" height="6"/>
<path d="M2042.0,3915.0L2041.3,3919.2L2040.6,3923.2L2039.9,3927.0L2039.2,3930.9L2038.6,3934.8L2037.9,3938.7L2037.3,3942.6L2036.6,3946.6L2036.0,3950.5L2035.3,3954.5L2034.7,3958.4L2034.0,3962.3L2033.2,3966.3L2032.5,3970.2L2031.6,3974.1L2030.7,3978.0L2029.7,3981.8L2028.6,3985.7L2027.4,3989.5L2026.2,3993.3L2024.8,3997.0L2023.2,4000.7L2021.6,4004.3L2019.8,4007.9L2017.8,4011.3L2015.7,4014.6L2013.3,4017.8L2010.8,4020.9L2008.1,4023.7L2005.2,4026.3L2002.1,4028.7L1998.8,4030.9L1995.3,4032.9L1991.8,4034.6L1988.2,4036.2L1984.5,4037.7L1980.7,4039.1L1976.9,4040.4L1973.1,4041.7L1969.3,4042.9L1965.5,4044.1L1961.7,4045.3L1957.9,4046.4L1954.0,4047.6L1950.2,4048.7L1946.3,4049.8L1942.5,4050.8L1938.6,4051.9L1934.7,4052.9L1930.9,4053.9L1927.0,4054.8L1923.1,4055.8L1919.2,4056.7L1915.3,4057.6L1911.4,4058.5L1907.5,4059.3L1903.6,4060.1L1899.7,4060.9L1895.7,4061.7L1891.8,4062.4L1887.9,4063.1L1883.9,4063.8L1880.0,4064.4L1876.0,4065.0L1872.1,4065.6L1868.1,4066.2L1864.1,4066.8L1860.2,4067.3L1856.2,4067.9L1852.2,4068.4L1848.3,4068.9L1844.3,4069.5L1840.4,4070.0L1836.4,4070.5L1832.4,4071.1L1828.5,4071.6L1824.5,4072.2L1820.5,4072.8L1816.6,4073.3L1812.6,4073.9L1808.7,4074.5L1804.7,4075.1L1800.7,4075.7L1796.8,4076.3L1792.8,4076.9L1788.9,4077.5L1784.9,4078.1L1781.0,4078.6L1777.0,4079.2L1773.1,4079.8L1769.1,4080.4L1765.1,4081.0L1761.2,4081.6L1757.2,4082.2L1753.3,4082.8L1749.3,4083.4L1745.4,4084.0L1741.4,4084.6L1737.4,4085.2L1733.5,4085.8L1729.5,4086.5L1725.6,4087.1L1721.7,4087.8L1717.7,4088.5L1713.8,4089.2L1709.8,4089.9L1705.9,4090.6L1702.0,4091.3L1698.0,4092.0L1694.1,4092.6L1690.1,4093.3L1686.2,4094.0L1682.2,4094.7L1678.3,4095.4L1674.4,4096.1L1670.4,4096.8L1666.5,4097.4L1662.5,4098.1L1658.6,4098.8L1654.7,4099.5L1650.7,4100.2L1646.8,4100.8L1642.8,4101.5L1638.9,4102.1L1634.9,4102.8L1631.0,4103.5L1627.0,4104.1L1623.1,4104.8L1619.1,4105.5L1615.2,4106.2L1611.3,4107.0L1607.4,4107.8L1603.5,4108.6L1599.5,4109.4L1595.6,4110.3L1591.7,4111.2L1587.8,4112.1L1583.9,4112.9L1580.0,4113.8L1576.1,4114.7L1572.2,4115.6L1568.3,4116.5L1564.4,4117.4L1560.5,4118.3L1556.6,4119.2L1552.7,4120.0L1548.8,4120.9L1544.9,4121.8L1541.0,4122.7L1537.1,4123.6L1533.2,4124.5L1529.3,4125.3L1525.4,4126.2L1521.5,4127.1L1517.6,4128.0L1513.7,4128.8L1509.8,4129.7L1505.9,4130.6L1502.0,4131.4L1498.1,4132.3L1494.2,4133.2L1490.3,4134.1L1486.4,4134.9L1482.5,4135.8L1478.6,4136.7L1474.7,4137.6L1470.8,4138.6L1466.9,4139.5L1463.0,4140.5L1459.1,4141.4L1455.2,4142.4L1451.4,4143.4L1447.5,4144.4L1443.6,4145.4L1439.7,4146.3L1435.8,4147.3L1431.9,4148.2L1428.0,4149.1L1424.1,4149.9L1420.2,4150.7L1416.3,4151.4L1412.3,4152.1L1408.4,4152.7L1404.4,4153.4L1400.5,4154.0L1396.5,4154.6L1392.6,4155.3L1388.6,4155.9L1384.7,4156.6L1380.7,4157.2L1376.8,4157.9L1372.8,4158.5L1368.9,4159.1L1364.9,4159.7L1361.0,4160.2L1357.0,4160.8L1353.0,4161.4L1349.1,4162.0L1345.1,4162.7L1341.2,4163.3L1337.3,4164.1L1333.3,4164.8L1329.4,4165.6L1325.5,4166.3L1321.6,4167.1L1317.6,4167.9L1313.7,4168.6L1309.8,4169.3L1305.8,4170.0L1301.9,4170.8L1298.0,4171.5L1294.1,4172.3L1290.1,4173.1L1286.2,4173.9L1282.3,4174.8L1278.4,4175.6L1274.5,4176.5L1270.6,4177.3L1266.7,4178.1L1262.7,4178.9L1258.8,4179.7L1254.9,4180.5L1251.0,4181.3L1247.1,4182.2L1243.2,4183.1L1239.3,4184.0L1235.4,4184.9L1231.5,4185.8L1227.6,4186.8L1223.7,4187.8L1219.9,4188.8L1216.0,4189.7L1212.1,4190.7L1208.2,4191.7L1204.3,4192.6L1200.5,4193.7L1196.6,4194.7L1192.7,4195.7L1188.9,4196.8L1185.0,4197.9L1181.2,4199.1L1177.4,4200.3L1173.6,4201.5L1169.8,4202.7L1166.0,4204.0L1162.2,4205.3L1158.4,4206.6L1154.6,4207.9L1150.8,4209.2L1147.1,4210.5L1143.3,4211.7L1139.5,4213.0L1135.6,4214.2L1131.8,4215.3L1128.0,4216.4L1124.1,4217.5L1120.2,4218.4L1116.3,4219.3L1112.4,4220.1L1108.5,4220.8L1104.6,4221.6L1100.6,4222.3L1096.7,4223.0L1092.7,4223.7L1088.8,4224.4L1084.9,4225.2L1081.0,4226.1L1077.1,4227.0L1073.2,4227.9L1069.3,4228.9L1065.4,4229.8L1061.5,4230.7L1057.6,4231.6L1053.7,4232.5L1049.8,4233.3L1045.9,4234.1L1042.0,4234.9L1038.0,4235.6L1034.1,4236.3L1030.2,4237.0L1026.2,4237.6L1022.3,4238.2L1018.3,4238.8L1014.3,4239.3L1010.4,4239.8L1006.4,4240.3L1002.4,4240.8L998.4,4241.2L994.5,4241.6L990.5,4242.0L986.5,4242.4L982.5,4242.8L978.5,4243.1L974.6,4243.5L970.6,4243.9L966.6,4244.3L962.6,4244.8L958.6,4245.2L954.7,4245.6L950.7,4246.1L946.7,4246.6L942.7,4247.1L938.8,4247.5L934.8,4248.0L930.8,4248.5L926.9,4249.0L922.9,4249.6L918.9,4250.1L915.0,4250.6L911.0,4251.2L907.0,4251.7L903.1,4252.3L899.1,4252.9L895.2,4253.5L891.2,4254.1L887.2,4254.6L883.3,4255.2L879.3,4255.7L875.4,4256.2L871.4,4256.6L867.4,4257.1L863.4,4257.4L859.4,4257.8L855.5,4258.0L851.5,4258.3L847.5,4258.5L843.5,4258.8L839.5,4259.0L835.5,4259.3L831.5,4259.6L827.5,4260.0L823.5,4260.3L819.5,4260.6L815.6,4261.0L811.6,4261.4L807.6,4261.7L803.6,4262.1L799.6,4262.5L795.7,4262.9L791.7,4263.4L787.7,4263.8L783.7,4264.3L779.8,4264.7L775.8,4265.2L771.8,4265.7L767.8,4266.2L763.9,4266.7L759.9,4267.1L755.9,4267.6L751.9,4268.1L748.0,4268.6L744.0,4269.0L740.0,4269.5L736.1,4269.9L732.1,4270.4L728.1,4270.8L724.1,4271.3L720.2,4271.8L716.2,4272.3L712.2,4272.8L708.3,4273.3L704.3,4273.9L700.3,4274.4L696.4,4275.0L692.4,4275.6L688.5,4276.2L684.5,4276.9L680.6,4277.5L676.6,4278.1L672.7,4278.7L668.7,4279.3L664.7,4279.9L660.8,4280.4L656.8,4280.9L652.8,4281.4L648.9,4281.9L644.9,4282.3L640.9,4282.8L636.9,4283.2L633.0,4283.7L629.0,4284.1L625.0,4284.5L621.0,4285.0L617.1,4285.5L613.1,4286.0L609.1,4286.5L605.2,4287.1L601.2,4287.7L597.3,4288.3L593.3,4288.9L589.3,4289.5L585.4,4290.1L581.4,4290.8L577.5,4291.4L573.5,4292.0L569.6,4292.6L565.6,4293.2L561.7,4293.8L557.7,4294.4L553.8,4294.9L549.8,4295.5L545.8,4296.1L541.9,4296.7L537.9,4297.3L534.0,4297.9L530.0,4298.5L526.1,4299.2L522.1,4299.8L518.2,4300.5L514.3,4301.3L510.3,4302.0L506.4,4302.8L502.5,4303.6L498.5,4304.3L494.6,4305.2L490.7,4306.0L486.8,4306.8L482.9,4307.7L479.0,4308.5L475.1,4309.4L471.2,4310.4L467.3,4311.3L463.4,4312.2L459.5,4313.1L455.6,4314.0L451.7,4314.9L447.8,4315.8L443.9,4316.7L440.0,4317.5L436.1,4318.4L432.2,4319.3L428.3,4320.2L424.4,4321.1L420.5,4322.1L416.6,4323.0L412.7,4323.9L408.9,4324.8L405.0,4325.8L401.1,4326.8L397.2,4327.8L393.3,4328.8L389.5,4329.9L385.7,4331.0L381.8,4332.1L378.0,4333.3L374.2,4334.5L370.4,4335.8L366.6,4337.0L362.8,4338.3L359.0,4339.6L355.2,4340.8L351.4,4342.1L347.6,4343.4L343.9,4344.7L340.2,4345.9L336.5,4347.2L332.8,4348.5L329.0,4349.9L325.0,4351.4" fill="none" stroke="#000" stroke-width="11" stroke-linejoin="round" stroke-linecap="butt"/>
<path d="M321.0,4351.0L321.1,4346.7L321.1,4342.7L321.1,4338.8L321.2,4334.9L321.2,4330.9L321.3,4327.0L321.4,4323.0L321.5,4319.0L321.5,4315.0L321.7,4311.0L321.8,4307.0L322.0,4303.0L322.2,4299.0L322.4,4295.0L322.6,4291.0L322.9,4287.0L323.2,4283.0L323.6,4279.0L323.9,4275.0L324.3,4271.0L324.6,4267.0L324.9,4263.1L325.3,4259.1L325.6,4255.1L325.9,4251.1L326.1,4247.1L326.4,4243.1L326.6,4239.1L326.8,4235.1L327.0,4231.1L327.2,4227.1L327.4,4223.1L327.6,4219.1L327.9,4215.1L328.1,4211.1L328.3,4207.1L328.6,4203.1L328.8,4199.1L329.1,4195.1L329.4,4191.1L329.7,4187.1L330.1,4183.2L330.5,4179.2L330.8,4175.2L331.2,4171.2L331.7,4167.2L332.1,4163.2L332.5,4159.3L333.0,4155.3L333.5,4151.3L333.9,4147.3L334.4,4143.4L334.9,4139.4L335.5,4135.4L336.0,4131.5L336.5,4127.5L337.1,4123.5L337.7,4119.6L338.2,4115.6L338.8,4111.6L339.4,4107.7L340.1,4103.7L340.7,4099.8L341.3,4095.8L342.0,4091.9L342.6,4087.9L343.3,4084.0L344.0,4080.0L344.7,4076.1L345.4,4072.1L346.1,4068.2L346.8,4064.3L347.5,4060.3L348.3,4056.4L349.0,4052.5L349.8,4048.5L350.6,4044.6L351.4,4040.7L352.2,4036.8L353.1,4032.9L353.9,4029.0L354.9,4025.1L355.8,4021.2L356.8,4017.3L357.8,4013.4L358.9,4009.6L360.0,4005.7L361.1,4001.9L362.2,3998.0L363.4,3994.2L364.6,3990.4L365.8,3986.6L367.1,3982.8L368.4,3979.0L369.8,3975.2L371.2,3971.5L372.6,3967.7L374.0,3964.0L375.5,3960.3L376.9,3956.5L378.4,3952.8L380.0,3949.1L381.5,3945.5L383.1,3941.8L384.8,3938.1L386.4,3934.5L388.1,3930.8L389.8,3927.2L391.5,3923.6L393.2,3920.0L394.9,3916.4L396.7,3912.8L398.6,3909.3L400.5,3905.8L402.5,3902.3L404.6,3898.9L406.8,3895.5L409.0,3892.2L411.3,3889.0L413.7,3885.7L416.1,3882.6L418.6,3879.4L421.2,3876.3L423.7,3873.3L426.4,3870.3L429.0,3867.3L431.8,3864.3L434.5,3861.4L437.3,3858.6L440.1,3855.7L443.0,3852.9L445.8,3850.1L448.8,3847.4L451.7,3844.7L454.7,3842.0L457.7,3839.4L460.7,3836.8L463.8,3834.2L466.9,3831.7L470.1,3829.3L473.3,3826.9L476.5,3824.5L479.8,3822.3L483.2,3820.0L486.5,3817.8L489.9,3815.7L493.3,3813.6L496.7,3811.5L500.1,3809.5L503.6,3807.5L507.1,3805.5L510.6,3803.6L514.1,3801.7L517.7,3799.8L521.2,3798.0L524.8,3796.2L528.4,3794.4L532.0,3792.7L535.6,3791.0L539.3,3789.4L542.9,3787.7L546.6,3786.1L550.3,3784.5L554.0,3783.0L557.7,3781.4L561.4,3779.9L565.1,3778.5L568.8,3777.0L572.6,3775.6L576.3,3774.2L580.1,3772.8L583.9,3771.5L587.6,3770.2L591.4,3768.9L595.2,3767.6L599.0,3766.4L602.8,3765.2L606.7,3763.9L610.5,3762.7L614.3,3761.6L618.1,3760.4L622.0,3759.2L625.8,3758.1L629.7,3757.1L633.5,3756.0L637.4,3755.1L641.3,3754.2L645.2,3753.3L649.1,3752.4L653.1,3751.6L657.0,3750.8L660.9,3750.1L664.8,3749.3L668.8,3748.5L672.7,3747.8L676.6,3747.0L680.5,3746.2L684.5,3745.5L688.4,3744.7L692.3,3744.0L696.3,3743.2L700.2,3742.6L704.2,3742.0L708.1,3741.4L712.1,3740.9L716.1,3740.4L720.1,3739.9L724.0,3739.4L728.0,3738.9L732.0,3738.3L735.9,3737.8L739.9,3737.2L743.8,3736.6L747.8,3736.0L751.8,3735.4L755.7,3734.8L759.7,3734.2L763.6,3733.6L767.6,3733.0L771.6,3732.4L775.5,3731.9L779.5,3731.4L783.5,3730.9L787.4,3730.4L791.4,3729.9L795.4,3729.4L799.4,3728.8L803.3,3728.3L807.3,3727.8L811.3,3727.2L815.2,3726.7L819.2,3726.1L823.1,3725.5L827.1,3724.9L831.0,3724.3L835.0,3723.6L839.0,3723.0L842.9,3722.4L846.9,3721.8L850.8,3721.2L854.8,3720.6L858.8,3720.1L862.7,3719.5L866.7,3718.9L870.6,3718.4L874.6,3717.8L878.6,3717.2L882.5,3716.7L886.5,3716.1L890.5,3715.5L894.4,3714.9L898.4,3714.2L902.3,3713.6L906.3,3712.9L910.2,3712.2L914.2,3711.6L918.1,3711.0L922.1,3710.4L926.0,3709.8L930.0,3709.3L934.0,3708.8L938.0,3708.4L941.9,3707.9L945.9,3707.5L949.9,3707.0L953.9,3706.6L957.9,3706.2L961.8,3705.8L965.8,3705.4L969.8,3705.0L973.8,3704.7L977.8,3704.3L981.8,3703.9L985.7,3703.5L989.7,3703.1L993.7,3702.8L997.7,3702.4L1001.7,3702.1L1005.7,3701.7L1009.7,3701.4L1013.7,3701.0L1017.7,3700.7L1021.6,3700.4L1025.6,3700.0L1029.6,3699.7L1033.6,3699.4L1037.6,3699.1L1041.6,3698.8L1045.6,3698.5L1049.6,3698.2L1053.6,3697.9L1057.6,3697.7L1061.6,3697.4L1065.6,3697.2L1069.6,3697.0L1073.6,3696.8L1077.6,3696.6L1081.6,3696.3L1085.6,3696.1L1089.6,3695.9L1093.6,3695.7L1097.5,3695.4L1101.5,3695.2L1105.5,3694.9L1109.5,3694.6L1113.5,3694.2L1117.5,3693.9L1121.5,3693.5L1125.5,3693.1L1129.4,3692.6L1133.4,3692.2L1137.4,3691.7L1141.4,3691.2L1145.3,3690.7L1149.3,3690.2L1153.3,3689.7L1157.3,3689.2L1161.2,3688.7L1165.2,3688.2L1169.2,3687.8L1173.2,3687.3L1177.1,3686.8L1181.1,3686.4L1185.1,3685.9L1189.1,3685.5L1193.0,3685.0L1197.0,3684.6L1201.0,3684.2L1205.0,3683.7L1209.0,3683.3L1213.0,3682.9L1216.9,3682.5L1220.9,3682.1L1224.9,3681.7L1228.9,3681.3L1232.9,3680.9L1236.9,3680.5L1240.8,3680.1L1244.8,3679.7L1248.8,3679.3L1252.8,3678.9L1256.8,3678.5L1260.8,3678.1L1264.7,3677.8L1268.7,3677.4L1272.7,3677.0L1276.7,3676.7L1280.7,3676.3L1284.7,3676.0L1288.7,3675.6L1292.7,3675.3L1296.7,3675.0L1300.6,3674.6L1304.6,3674.3L1308.6,3674.0L1312.6,3673.7L1316.6,3673.4L1320.6,3673.0L1324.6,3672.7L1328.6,3672.4L1332.6,3672.1L1336.6,3671.8L1340.6,3671.5L1344.6,3671.3L1348.5,3671.0L1352.5,3670.7L1356.5,3670.4L1360.5,3670.1L1364.5,3669.9L1368.5,3669.6L1372.5,3669.3L1376.5,3669.0L1380.5,3668.8L1384.5,3668.5L1388.5,3668.2L1392.5,3668.0L1396.5,3667.7L1400.5,3667.4L1404.5,3667.2L1408.5,3667.0L1412.5,3666.7L1416.5,3666.5L1420.5,3666.3L1424.5,3666.1L1428.5,3665.9L1432.5,3665.7L1436.5,3665.5L1440.5,3665.4L1444.5,3665.3L1448.5,3665.1L1452.5,3665.1L1456.5,3665.0L1460.5,3664.9L1464.5,3664.9L1468.5,3664.9L1472.5,3664.9L1476.5,3664.9L1480.5,3664.9L1484.5,3665.0L1488.5,3665.1L1492.5,3665.1L1496.5,3665.2L1500.5,3665.3L1504.5,3665.4L1508.5,3665.4L1512.5,3665.5L1516.5,3665.6L1520.5,3665.7L1524.5,3665.8L1528.5,3665.8L1532.5,3665.9L1536.5,3665.9L1540.5,3666.0L1544.5,3666.0L1548.5,3666.0L1552.5,3666.0L1556.5,3666.0L1560.5,3666.0L1564.5,3665.9L1568.5,3665.9L1572.6,3665.9L1576.6,3665.8L1580.6,3665.8L1584.6,3665.8L1588.6,3665.7L1592.6,3665.7L1596.6,3665.7L1600.6,3665.7L1604.6,3665.8L1608.6,3665.8L1612.6,3665.9L1616.6,3665.9L1620.6,3666.0L1624.6,3666.2L1628.6,3666.3L1632.6,3666.5L1636.6,3666.7L1640.6,3666.9L1644.6,3667.1L1648.6,3667.3L1652.6,3667.6L1656.6,3667.9L1660.6,3668.2L1664.6,3668.5L1668.5,3668.8L1672.5,3669.2L1676.5,3669.5L1680.5,3669.9L1684.5,3670.3L1688.5,3670.7L1692.5,3671.1L1696.4,3671.5L1700.4,3671.9L1704.4,3672.4L1708.4,3672.8L1712.4,3673.3L1716.3,3673.7L1720.3,3674.2L1724.3,3674.7L1728.3,3675.2L1732.2,3675.7L1736.2,3676.2L1740.2,3676.7L1744.1,3677.2L1748.1,3677.8L1752.1,3678.4L1756.0,3678.9L1760.0,3679.5L1763.9,3680.1L1767.9,3680.7L1771.9,3681.3L1775.8,3682.0L1779.8,3682.6L1783.7,3683.2L1787.7,3683.8L1791.6,3684.4L1795.6,3685.1L1799.5,3685.7L1803.5,3686.3L1807.5,3687.0L1811.4,3687.6L1815.4,3688.2L1819.3,3688.8L1823.3,3689.4L1827.2,3690.0L1831.2,3690.6L1835.1,3691.3L1839.1,3691.9L1843.1,3692.5L1847.0,3693.1L1851.0,3693.7L1854.9,3694.4L1858.9,3695.0L1862.8,3695.6L1866.8,3696.2L1870.7,3696.9L1874.7,3697.5L1878.6,3698.1L1882.6,3698.7L1886.6,3699.4L1890.5,3700.0L1894.5,3700.6L1898.4,3701.3L1902.4,3701.9L1906.3,3702.5L1910.3,3703.2L1914.2,3703.8L1918.2,3704.4L1922.1,3705.0L1926.1,3705.6L1930.1,3706.1L1934.0,3706.6L1938.0,3707.0L1942.0,3707.4L1946.0,3707.7L1950.0,3708.0L1954.0,3708.3L1958.0,3708.6L1962.0,3708.8L1966.0,3709.1L1970.0,3709.3L1974.0,3709.5L1978.0,3709.7L1982.0,3709.9L1986.0,3710.1L1990.0,3710.2L1994.0,3710.4L1998.0,3710.5L2002.0,3710.5L2006.0,3710.6L2010.0,3710.6L2014.0,3710.6L2018.0,3710.7L2022.0,3710.7L2026.0,3710.7L2030.0,3710.7L2033.9,3710.7L2037.8,3710.7L2041.7,3710.7L2045.7,3710.8L2049.8,3710.9L2052.0,3711.0" fill="none" stroke="#000" stroke-width="11" stroke-linejoin="round" stroke-linecap="butt"/>
<path d="M320.7,4377.0L320.9,4372.7L321.1,4368.7L321.3,4364.8L321.5,4360.9L321.7,4357.0L322.0,4353.0L322.2,4349.0L322.4,4345.0L322.7,4341.0L323.0,4337.0L323.2,4333.0L323.5,4329.1L323.8,4325.1L324.2,4321.1L324.5,4317.1L324.8,4313.1L325.2,4309.1L325.5,4305.1L325.8,4301.1L326.1,4297.1L326.5,4293.1L326.8,4289.2L327.1,4285.2L327.4,4281.2L327.7,4277.2L328.0,4273.2L328.3,4269.2L328.6,4265.2L328.9,4261.2L329.2,4257.2L329.5,4253.2L329.8,4249.2L330.1,4245.3L330.4,4241.3L330.6,4237.3L330.9,4233.3L331.1,4229.3L331.3,4225.3L331.6,4221.3L331.8,4217.3L332.0,4213.3L332.2,4209.3L332.4,4205.3L332.7,4201.3L333.0,4197.3L333.3,4193.3L333.6,4189.3L333.9,4185.3L334.3,4181.4L334.7,4177.4L335.1,4173.4L335.5,4169.4L335.9,4165.4L336.3,4161.4L336.8,4157.5L337.2,4153.5L337.7,4149.5L338.2,4145.5L338.7,4141.6L339.2,4137.6L339.8,4133.6L340.3,4129.7L340.8,4125.7L341.4,4121.7L342.0,4117.8L342.6,4113.8L343.2,4109.9L343.8,4105.9L344.4,4101.9L345.0,4098.0L345.6,4094.0L346.3,4090.1L347.0,4086.1L347.6,4082.2L348.3,4078.3L349.0,4074.3L349.7,4070.4L350.4,4066.4L351.1,4062.5L351.9,4058.6L352.6,4054.6L353.4,4050.7L354.1,4046.8L354.9,4042.8L355.7,4038.9L356.6,4035.0L357.5,4031.1L358.4,4027.2L359.3,4023.3L360.3,4019.4L361.3,4015.6L362.3,4011.7L363.4,4007.8L364.5,4004.0L365.6,4000.1L366.7,3996.3L367.9,3992.5L369.2,3988.7L370.4,3984.9L371.7,3981.1L373.1,3977.3L374.5,3973.6L375.9,3969.8L377.3,3966.1L378.8,3962.4L380.3,3958.7L381.8,3955.0L383.4,3951.3L385.0,3947.6L386.6,3944.0L388.2,3940.3L389.9,3936.7L391.6,3933.0L393.3,3929.4L395.0,3925.8L396.8,3922.2L398.6,3918.7L400.5,3915.1L402.4,3911.6L404.4,3908.1L406.4,3904.7L408.5,3901.3L410.7,3898.0L413.0,3894.7L415.3,3891.4L417.7,3888.2L420.2,3885.1L422.7,3882.0L425.3,3878.9L427.9,3875.9L430.6,3873.0L433.3,3870.0L436.1,3867.1L438.9,3864.3L441.7,3861.4L444.5,3858.6L447.4,3855.8L450.2,3853.0L453.1,3850.2L456.1,3847.5L459.0,3844.8L462.0,3842.1L465.0,3839.5L468.0,3836.9L471.1,3834.3L474.2,3831.8L477.4,3829.3L480.6,3827.0L483.8,3824.6L487.1,3822.3L490.4,3820.1L493.8,3817.9L497.2,3815.8L500.6,3813.7L504.1,3811.7L507.5,3809.8L511.1,3807.9L514.6,3806.0L518.1,3804.1L521.7,3802.3L525.3,3800.5L528.8,3798.7L532.4,3796.9L536.0,3795.0L539.5,3793.2L543.0,3791.2L546.5,3789.3L549.9,3787.2L553.3,3785.2L556.8,3783.1L560.2,3781.1L563.7,3779.2L567.2,3777.2L570.8,3775.3L574.3,3773.5L577.8,3771.6L581.4,3769.7L584.9,3767.8L588.4,3765.9L591.9,3764.0L595.4,3762.1L598.9,3760.1L602.4,3758.1L605.8,3756.1L609.3,3754.1L612.7,3752.0L616.1,3749.9L619.5,3747.8L622.9,3745.7L626.3,3743.5L629.7,3741.4L633.0,3739.2L636.3,3736.9L639.7,3734.7L643.0,3732.4L646.2,3730.1L649.4,3727.8L652.6,3725.3L655.7,3722.8L658.8,3720.3L661.8,3717.7L664.8,3715.0L667.8,3712.3L670.6,3709.5L673.5,3706.7L676.3,3703.9L679.1,3701.0L681.8,3698.1L684.6,3695.1L687.2,3692.2L689.9,3689.2L692.5,3686.1L695.1,3683.1L697.7,3680.0L700.2,3677.0L702.8,3673.9L705.3,3670.8L707.8,3667.7L710.3,3664.5L712.8,3661.4L715.2,3658.2L717.6,3655.0L720.0,3651.8L722.4,3648.6L724.7,3645.3L726.9,3642.0L729.1,3638.7L731.3,3635.3L733.5,3631.9L735.6,3628.5L737.7,3625.1L739.8,3621.7L741.9,3618.3L744.0,3614.9L746.1,3611.5L748.3,3608.1L750.4,3604.8L752.6,3601.4L754.8,3598.1L757.0,3594.7L759.3,3591.4L761.5,3588.1L763.7,3584.8L765.9,3581.4L768.1,3578.1L770.3,3574.7L772.5,3571.4L774.7,3568.0L776.9,3564.7L779.0,3561.3L781.2,3557.9L783.4,3554.6L785.5,3551.2L787.7,3547.8L789.9,3544.5L792.1,3541.1L794.3,3537.8L796.5,3534.5L798.8,3531.2L801.2,3528.0L803.6,3524.9L806.2,3521.8L808.7,3518.7L811.4,3515.7L814.0,3512.7L816.7,3509.7L819.4,3506.7L822.1,3503.8L824.9,3501.0L827.8,3498.2L830.7,3495.5L833.7,3492.9L836.8,3490.5L840.1,3488.2L843.5,3486.3L847.0,3484.6L850.7,3483.2L854.4,3482.3L858.2,3481.7L862.0,3481.6L865.9,3481.9L869.7,3482.6L873.4,3483.7L877.0,3485.2L880.4,3487.0L883.8,3489.1L886.9,3491.4L890.0,3494.0L892.8,3496.7L895.6,3499.6L898.2,3502.6L900.7,3505.7L903.1,3508.9L905.3,3512.2L907.5,3515.5L909.6,3518.9L911.5,3522.4L913.4,3525.9L915.3,3529.5L917.1,3533.0L918.8,3536.6L920.6,3540.2L922.4,3543.8L924.2,3547.4L926.0,3551.0L927.7,3554.5L929.5,3558.1L931.3,3561.7L933.0,3565.3L934.8,3568.9L936.5,3572.6L938.2,3576.2L939.8,3579.8L941.5,3583.4L943.2,3587.1L944.9,3590.7L946.6,3594.3L948.4,3597.9L950.2,3601.5L952.0,3605.0L953.9,3608.6L955.8,3612.1L957.7,3615.6L959.7,3619.1L961.7,3622.5L963.8,3625.9L966.0,3629.3L968.2,3632.7L970.4,3635.9L972.8,3639.2L975.2,3642.3L977.8,3645.4L980.4,3648.4L983.2,3651.2L986.1,3654.0L989.0,3656.6L992.1,3659.2L995.2,3661.7L998.3,3664.2L1001.6,3666.6L1004.8,3668.9L1008.1,3671.1L1011.5,3673.2L1015.0,3675.2L1018.5,3677.0L1022.1,3678.7L1025.8,3680.3L1029.5,3681.7L1033.3,3683.0L1037.1,3684.1L1041.0,3685.1L1044.9,3685.9L1048.8,3686.7L1052.7,3687.4L1056.7,3688.0L1060.6,3688.6L1064.6,3689.1L1068.6,3689.6L1072.5,3690.0L1076.5,3690.3L1080.5,3690.6L1084.5,3690.7L1088.5,3690.9L1092.5,3690.9L1096.5,3690.9L1100.5,3690.8L1104.5,3690.8L1108.5,3690.7L1112.5,3690.5L1116.5,3690.4L1120.5,3690.2L1124.5,3690.0L1128.5,3689.8L1132.5,3689.6L1136.5,3689.3L1140.5,3689.1L1144.5,3688.8L1148.5,3688.5L1152.5,3688.2L1156.5,3687.9L1160.4,3687.6L1164.4,3687.2L1168.4,3686.9L1172.4,3686.5L1176.4,3686.2L1180.4,3685.8L1184.4,3685.5L1188.4,3685.1L1192.3,3684.8L1196.3,3684.4L1200.3,3684.1L1204.3,3683.7L1208.3,3683.4L1212.3,3683.0L1216.3,3682.7L1220.3,3682.3L1224.2,3682.0L1228.2,3681.6L1232.2,3681.3L1236.2,3681.0L1240.2,3680.7L1244.2,3680.3L1248.2,3680.0L1252.2,3679.7L1256.2,3679.3L1260.1,3679.0L1264.1,3678.7L1268.1,3678.4L1272.1,3678.1L1276.1,3677.7L1280.1,3677.4L1284.1,3677.1L1288.1,3676.8L1292.1,3676.5L1296.1,3676.2L1300.1,3675.9L1304.0,3675.6L1308.0,3675.3L1312.0,3674.9L1316.0,3674.6L1320.0,3674.3L1324.0,3674.0L1328.0,3673.7L1332.0,3673.4L1336.0,3673.1L1340.0,3672.8L1344.0,3672.5L1347.9,3672.3L1351.9,3672.0L1355.9,3671.7L1359.9,3671.4L1363.9,3671.1L1367.9,3670.8L1371.9,3670.5L1375.9,3670.2L1379.9,3670.0L1383.9,3669.7L1387.9,3669.4L1391.9,3669.2L1395.9,3668.9L1399.9,3668.7L1403.9,3668.4L1407.9,3668.2L1411.8,3667.9L1415.8,3667.7L1419.8,3667.5L1423.8,3667.3L1427.8,3667.0L1431.8,3666.8L1435.8,3666.6L1439.8,3666.4L1443.8,3666.2L1447.8,3666.0L1451.8,3665.8L1455.8,3665.6L1459.8,3665.4L1463.8,3665.3L1467.8,3665.1L1471.8,3664.9L1475.8,3664.7L1479.8,3664.5L1483.8,3664.3L1487.8,3664.1L1491.8,3664.0L1495.8,3663.8L1499.8,3663.6L1503.8,3663.4L1507.8,3663.3L1511.8,3663.1L1515.8,3662.9L1519.8,3662.8L1523.8,3662.6L1527.8,3662.5L1531.8,3662.3L1535.8,3662.2L1539.8,3662.0L1543.8,3661.8L1547.8,3661.6L1551.8,3661.4L1555.8,3661.2L1559.8,3661.0L1563.8,3660.8L1567.8,3660.6L1571.8,3660.4L1575.8,3660.2L1579.8,3660.0L1583.8,3659.8L1587.8,3659.6L1591.8,3659.4L1595.8,3659.2L1599.8,3659.1L1603.8,3658.9L1607.8,3658.7L1611.8,3658.6L1615.8,3658.5L1619.8,3658.3L1623.8,3658.2L1627.8,3658.1L1631.8,3658.1L1635.8,3658.0L1639.8,3658.0L1643.8,3657.9L1647.8,3657.9L1651.8,3657.9L1655.8,3657.9L1659.8,3657.9L1663.8,3657.9L1667.8,3658.0L1671.8,3658.0L1675.8,3658.0L1679.8,3658.1L1683.8,3658.2L1687.8,3658.3L1691.8,3658.4L1695.8,3658.5L1699.8,3658.6L1703.8,3658.7L1707.8,3658.8L1711.8,3659.0L1715.8,3659.1L1719.8,3659.3L1723.8,3659.4L1727.8,3659.6L1731.8,3659.8L1735.8,3660.0L1739.8,3660.2L1743.8,3660.5L1747.8,3660.7L1751.8,3661.0L1755.8,3661.2L1759.8,3661.5L1763.8,3661.7L1767.8,3662.0L1771.8,3662.3L1775.8,3662.6L1779.7,3662.9L1783.7,3663.3L1787.7,3663.6L1791.7,3663.9L1795.7,3664.3L1799.7,3664.6L1803.7,3665.0L1807.7,3665.4L1811.6,3665.7L1815.6,3666.1L1819.6,3666.5L1823.6,3667.0L1827.6,3667.4L1831.5,3667.8L1835.5,3668.3L1839.5,3668.8L1843.5,3669.3L1847.4,3669.8L1851.4,3670.3L1855.4,3670.8L1859.3,3671.3L1863.3,3671.9L1867.3,3672.4L1871.2,3673.0L1875.2,3673.5L1879.2,3674.1L1883.1,3674.6L1887.1,3675.2L1891.1,3675.7L1895.0,3676.3L1899.0,3676.9L1902.9,3677.5L1906.9,3678.0L1910.9,3678.6L1914.8,3679.3L1918.8,3679.9L1922.7,3680.5L1926.7,3681.1L1930.6,3681.7L1934.6,3682.2L1938.6,3682.7L1942.5,3683.2L1946.5,3683.7L1950.5,3684.2L1954.5,3684.7L1958.4,3685.2L1962.4,3685.7L1966.4,3686.2L1970.3,3686.8L1974.3,3687.3L1978.3,3687.9L1982.2,3688.5L1986.2,3689.1L1990.1,3689.6L1994.1,3690.1L1998.1,3690.6L2002.1,3691.0L2006.0,3691.4L2010.0,3691.7L2014.0,3692.0L2018.0,3692.3L2022.0,3692.6L2026.0,3692.8L2030.0,3693.0L2033.9,3693.3L2037.8,3693.4L2041.7,3693.6L2045.7,3693.8L2049.8,3693.9L2052.0,3694.0" fill="none" stroke="#00f" stroke-width="11" stroke-linejoin="round" stroke-linecap="butt"/>
<path d="M2047.1,3912.1L2046.8,3916.4L2046.6,3920.4L2046.3,3924.3L2046.0,3928.2L2045.7,3932.1L2045.4,3936.1L2045.0,3940.0L2044.6,3944.0L2044.1,3948.0L2043.6,3951.9L2043.0,3955.9L2042.4,3959.9L2041.7,3963.8L2041.0,3967.7L2040.2,3971.6L2039.4,3975.6L2038.5,3979.5L2037.5,3983.3L2036.5,3987.2L2035.4,3991.1L2034.3,3994.9L2033.1,3998.7L2031.8,4002.5L2030.4,4006.2L2028.9,4009.9L2027.3,4013.6L2025.5,4017.1L2023.7,4020.7L2021.7,4024.1L2019.5,4027.4L2017.1,4030.5L2014.5,4033.5L2011.8,4036.3L2008.8,4038.9L2005.7,4041.3L2002.4,4043.6L1999.0,4045.7L1995.6,4047.7L1992.1,4049.6L1988.5,4051.3L1984.9,4053.0L1981.2,4054.6L1977.5,4056.0L1973.7,4057.4L1970.0,4058.7L1966.2,4060.0L1962.3,4061.2L1958.5,4062.3L1954.7,4063.4L1950.8,4064.5L1947.0,4065.6L1943.1,4066.6L1939.2,4067.6L1935.3,4068.5L1931.4,4069.5L1927.5,4070.4L1923.6,4071.2L1919.7,4072.1L1915.8,4072.9L1911.9,4073.6L1907.9,4074.4L1904.0,4075.1L1900.1,4075.8L1896.1,4076.4L1892.2,4077.1L1888.2,4077.7L1884.3,4078.3L1880.3,4078.9L1876.3,4079.5L1872.4,4080.1L1868.4,4080.6L1864.5,4081.2L1860.5,4081.8L1856.5,4082.3L1852.6,4082.9L1848.6,4083.4L1844.7,4084.0L1840.7,4084.6L1836.7,4085.2L1832.8,4085.9L1828.9,4086.6L1824.9,4087.3L1821.0,4088.0L1817.1,4088.8L1813.2,4089.6L1809.2,4090.5L1805.3,4091.4L1801.4,4092.3L1797.6,4093.2L1793.7,4094.1L1789.8,4095.0L1785.9,4095.9L1782.0,4096.8L1778.1,4097.7L1774.2,4098.6L1770.3,4099.5L1766.4,4100.4L1762.5,4101.3L1758.6,4102.2L1754.7,4103.0L1750.7,4103.9L1746.8,4104.8L1742.9,4105.7L1739.0,4106.5L1735.1,4107.4L1731.2,4108.3L1727.3,4109.2L1723.4,4110.0L1719.5,4110.9L1715.6,4111.8L1711.7,4112.7L1707.8,4113.6L1703.9,4114.5L1700.0,4115.3L1696.1,4116.2L1692.2,4117.1L1688.3,4118.0L1684.4,4118.9L1680.5,4119.7L1676.6,4120.6L1672.7,4121.5L1668.8,4122.4L1664.9,4123.3L1661.0,4124.1L1657.1,4125.0L1653.1,4125.9L1649.2,4126.7L1645.3,4127.5L1641.4,4128.3L1637.5,4129.1L1633.5,4129.8L1629.6,4130.5L1625.7,4131.2L1621.7,4131.8L1617.8,4132.5L1613.8,4133.1L1609.9,4133.8L1605.9,4134.5L1602.0,4135.1L1598.0,4135.8L1594.1,4136.5L1590.1,4137.2L1586.2,4137.8L1582.3,4138.5L1578.3,4139.2L1574.4,4139.9L1570.4,4140.7L1566.5,4141.4L1562.6,4142.1L1558.7,4142.9L1554.7,4143.7L1550.8,4144.5L1546.9,4145.3L1543.0,4146.1L1539.0,4146.9L1535.1,4147.6L1531.2,4148.4L1527.3,4149.2L1523.3,4150.0L1519.4,4150.7L1515.5,4151.4L1511.5,4152.1L1507.6,4152.8L1503.7,4153.5L1499.7,4154.2L1495.8,4154.8L1491.8,4155.5L1487.9,4156.2L1483.9,4156.9L1480.0,4157.6L1476.1,4158.4L1472.2,4159.2L1468.2,4160.0L1464.3,4160.8L1460.4,4161.7L1456.5,4162.6L1452.6,4163.5L1448.7,4164.4L1444.8,4165.3L1440.9,4166.2L1437.0,4167.0L1433.1,4167.9L1429.2,4168.6L1425.2,4169.3L1421.3,4169.9L1417.3,4170.4L1413.4,4170.8L1409.4,4171.2L1405.4,4171.6L1401.4,4172.0L1397.4,4172.4L1393.5,4172.9L1389.5,4173.4L1385.5,4173.9L1381.6,4174.5L1377.6,4175.1L1373.7,4175.8L1369.7,4176.5L1365.8,4177.3L1361.9,4178.2L1358.0,4179.1L1354.2,4180.1L1350.3,4181.2L1346.5,4182.3L1342.7,4183.5L1338.8,4184.7L1335.1,4186.0L1331.3,4187.3L1327.5,4188.6L1323.7,4189.9L1319.9,4191.1L1316.1,4192.4L1312.3,4193.6L1308.5,4194.7L1304.6,4195.9L1300.8,4197.0L1297.0,4198.2L1293.1,4199.3L1289.3,4200.4L1285.5,4201.6L1281.6,4202.7L1277.8,4203.9L1274.0,4205.1L1270.2,4206.3L1266.4,4207.6L1262.6,4208.9L1258.8,4210.2L1255.0,4211.5L1251.2,4212.8L1247.5,4214.1L1243.7,4215.3L1239.8,4216.6L1236.0,4217.8L1232.2,4218.9L1228.4,4220.0L1224.5,4221.1L1220.6,4222.1L1216.8,4223.0L1212.9,4223.9L1208.9,4224.8L1205.0,4225.6L1201.1,4226.4L1197.2,4227.1L1193.3,4227.9L1189.3,4228.7L1185.4,4229.5L1181.5,4230.3L1177.5,4231.0L1173.6,4231.7L1169.7,4232.3L1165.7,4232.8L1161.7,4233.3L1157.8,4233.8L1153.8,4234.2L1149.8,4234.5L1145.8,4234.9L1141.8,4235.2L1137.8,4235.5L1133.8,4235.9L1129.9,4236.2L1125.9,4236.5L1121.9,4236.9L1117.9,4237.3L1113.9,4237.7L1110.0,4238.2L1106.0,4238.6L1102.0,4239.1L1098.0,4239.6L1094.1,4240.1L1090.1,4240.6L1086.1,4241.2L1082.2,4241.7L1078.2,4242.3L1074.2,4242.9L1070.3,4243.4L1066.3,4244.0L1062.4,4244.6L1058.4,4245.1L1054.4,4245.7L1050.5,4246.2L1046.5,4246.7L1042.5,4247.1L1038.5,4247.5L1034.6,4247.9L1030.6,4248.3L1026.6,4248.7L1022.6,4249.0L1018.6,4249.3L1014.6,4249.7L1010.6,4250.0L1006.7,4250.3L1002.7,4250.7L998.7,4251.1L994.7,4251.5L990.7,4251.9L986.8,4252.4L982.8,4252.9L978.8,4253.4L974.9,4254.0L970.9,4254.6L967.0,4255.2L963.0,4255.8L959.0,4256.4L955.1,4256.9L951.1,4257.5L947.2,4258.1L943.2,4258.8L939.3,4259.4L935.3,4260.0L931.4,4260.7L927.4,4261.5L923.5,4262.2L919.6,4263.0L915.7,4263.9L911.8,4264.8L907.9,4265.7L904.0,4266.8L900.2,4267.8L896.4,4269.0L892.5,4270.2L888.8,4271.4L885.0,4272.7L881.2,4274.1L877.5,4275.6L873.8,4277.2L870.2,4278.8L866.6,4280.6L863.1,4282.5L859.6,4284.4L856.2,4286.5L852.9,4288.7L849.6,4290.9L846.3,4293.2L843.1,4295.5L839.9,4297.9L836.7,4300.4L833.6,4302.9L830.5,4305.4L827.4,4308.0L824.4,4310.6L821.4,4313.3L818.4,4316.0L815.5,4318.7L812.7,4321.5L809.8,4324.3L807.0,4327.2L804.3,4330.1L801.5,4333.0L798.8,4335.9L796.2,4338.9L793.5,4341.9L790.9,4344.9L788.3,4348.0L785.8,4351.1L783.2,4354.2L780.7,4357.2L778.2,4360.4L775.6,4363.5L773.1,4366.6L770.7,4369.7L768.2,4372.9L765.7,4376.0L763.3,4379.2L760.9,4382.4L758.5,4385.6L756.2,4388.9L753.9,4392.1L751.6,4395.4L749.4,4398.7L747.2,4402.1L745.0,4405.5L742.9,4408.8L740.8,4412.2L738.7,4415.6L736.6,4419.0L734.5,4422.4L732.3,4425.8L730.2,4429.2L728.1,4432.6L726.0,4436.0L723.8,4439.4L721.7,4442.8L719.5,4446.1L717.3,4449.5L715.2,4452.9L713.0,4456.2L710.8,4459.6L708.6,4462.9L706.4,4466.3L704.2,4469.6L701.9,4472.9L699.7,4476.2L697.4,4479.5L695.0,4482.7L692.7,4485.9L690.3,4489.1L687.8,4492.3L685.3,4495.4L682.7,4498.5L680.1,4501.5L677.5,4504.5L674.8,4507.4L672.0,4510.3L669.1,4513.1L666.2,4515.8L663.3,4518.5L660.2,4521.1L657.1,4523.5L653.8,4525.8L650.5,4527.9L647.0,4529.7L643.4,4531.2L639.7,4532.5L636.0,4533.3L632.1,4533.7L628.3,4533.8L624.4,4533.3L620.7,4532.5L617.0,4531.3L613.4,4529.8L610.0,4527.9L606.7,4525.8L603.6,4523.4L600.6,4520.8L597.7,4518.0L595.0,4515.1L592.5,4512.0L590.0,4508.9L587.7,4505.7L585.4,4502.4L583.2,4499.1L581.1,4495.7L579.0,4492.2L577.0,4488.8L575.0,4485.3L573.0,4481.9L571.1,4478.4L569.1,4474.9L567.2,4471.4L565.3,4467.8L563.4,4464.3L561.5,4460.8L559.6,4457.3L557.7,4453.8L555.8,4450.2L553.9,4446.7L552.0,4443.2L550.0,4439.7L548.1,4436.2L546.2,4432.7L544.2,4429.2L542.2,4425.7L540.2,4422.3L538.1,4418.9L536.0,4415.5L533.8,4412.2L531.5,4408.9L529.2,4405.6L526.7,4402.5L524.2,4399.3L521.7,4396.3L519.1,4393.2L516.4,4390.2L513.8,4387.3L511.0,4384.4L508.2,4381.5L505.4,4378.7L502.5,4375.9L499.5,4373.3L496.4,4370.8L493.3,4368.4L490.0,4366.1L486.6,4364.0L483.2,4362.1L479.6,4360.4L475.9,4358.9L472.2,4357.6L468.4,4356.5L464.5,4355.4L460.7,4354.4L456.8,4353.4L452.9,4352.4L449.1,4351.5L445.1,4350.7L441.2,4350.1L437.3,4349.5L433.3,4349.2L429.3,4348.9L425.4,4348.8L421.4,4348.8L417.4,4348.9L413.4,4349.0L409.4,4349.2L405.4,4349.4L401.4,4349.7L397.4,4350.0L393.5,4350.5L389.5,4351.1L385.6,4351.8L381.8,4352.8L378.0,4353.8L374.2,4355.1L370.4,4356.3L366.6,4357.6L362.8,4358.9L359.0,4360.1L355.2,4361.4L351.5,4362.7L347.7,4364.1L344.0,4365.5L340.3,4367.0L336.7,4368.6L333.2,4370.3L329.7,4372.1L326.2,4373.9L322.6,4375.9L320.7,4377.0" fill="none" stroke="#00f" stroke-width="11" stroke-linejoin="round" stroke-linecap="butt"/>
<text x="275.6" y="3400.5" font-size="67" text-anchor="end">60</text>
<text x="275.6" y="3582.7" font-size="67" text-anchor="end">40</text>
<text x="275.6" y="3764.9" font-size="67" text-anchor="end">20</text>
<text x="275.6" y="3947.1" font-size="67" text-anchor="end">0</text>
<text x="275.6" y="4129.3" font-size="67" text-anchor="end">-20</text>
<text x="275.6" y="4311.6" font-size="67" text-anchor="end">-40</text>
<text x="275.6" y="4493.8" font-size="67" text-anchor="end">-60</text>
<text x="275.6" y="4676.0" font-size="67" text-anchor="end">-80</text>
<text x="318.0" y="4750.0" font-size="67" text-anchor="middle">-0.8</text>
<text x="750.9" y="4750.0" font-size="67" text-anchor="middle">-0.6</text>
<text x="1183.8" y="4750.0" font-size="67" text-anchor="middle">-0.4</text>
<text x="1616.6" y="4750.0" font-size="67" text-anchor="middle">-0.2</text>
<text x="2049.5" y="4750.0" font-size="67" text-anchor="middle">0.0</text>
<text x="973.7" y="4876.0" font-size="80" textLength="425.2" lengthAdjust="spacingAndGlyphs">Potential (V)</text>
<text transform="translate(87.3,4251.8) rotate(-90)" x="0" y="0" font-size="80" textLength="457.4" lengthAdjust="spacingAndGlyphs">Current (uA)</text>
<text x="392.5" y="3528.0" font-size="100" textLength="109.2" lengthAdjust="spacingAndGlyphs">C)</text>
<text x="1509.4" y="3510.4" font-size="78" textLength="459.6" lengthAdjust="spacingAndGlyphs">AuNPs-SPCE</text>
<rect x="1513" y="4352.0" width="125" height="10" fill="#000"/>
<rect x="1528.7" y="4426.8" width="109.29999999999995" height="14" fill="#00f"/>
<text x="1650.8" y="4375.6" font-size="57" textLength="297.3" lengthAdjust="spacingAndGlyphs">0 mM of RF</text>
<text x="1651.0" y="4445.2" font-size="57" textLength="310.7" lengthAdjust="spacingAndGlyphs">68mM of RF</text>
<line x1="1439.5" y1="4271.25" x2="1258" y2="4316" stroke="#000" stroke-width="3"/>
<polygon points="1227,4324.5 1258,4308 1263,4325"/>
<text x="863.6" y="4598.5" font-size="60" textLength="114.2" lengthAdjust="spacingAndGlyphs">PBS</text>
<text x="1146.5" y="4599.0" font-size="60" textLength="197.4" lengthAdjust="spacingAndGlyphs">50mV/s</text>
</svg>
</body></html>
